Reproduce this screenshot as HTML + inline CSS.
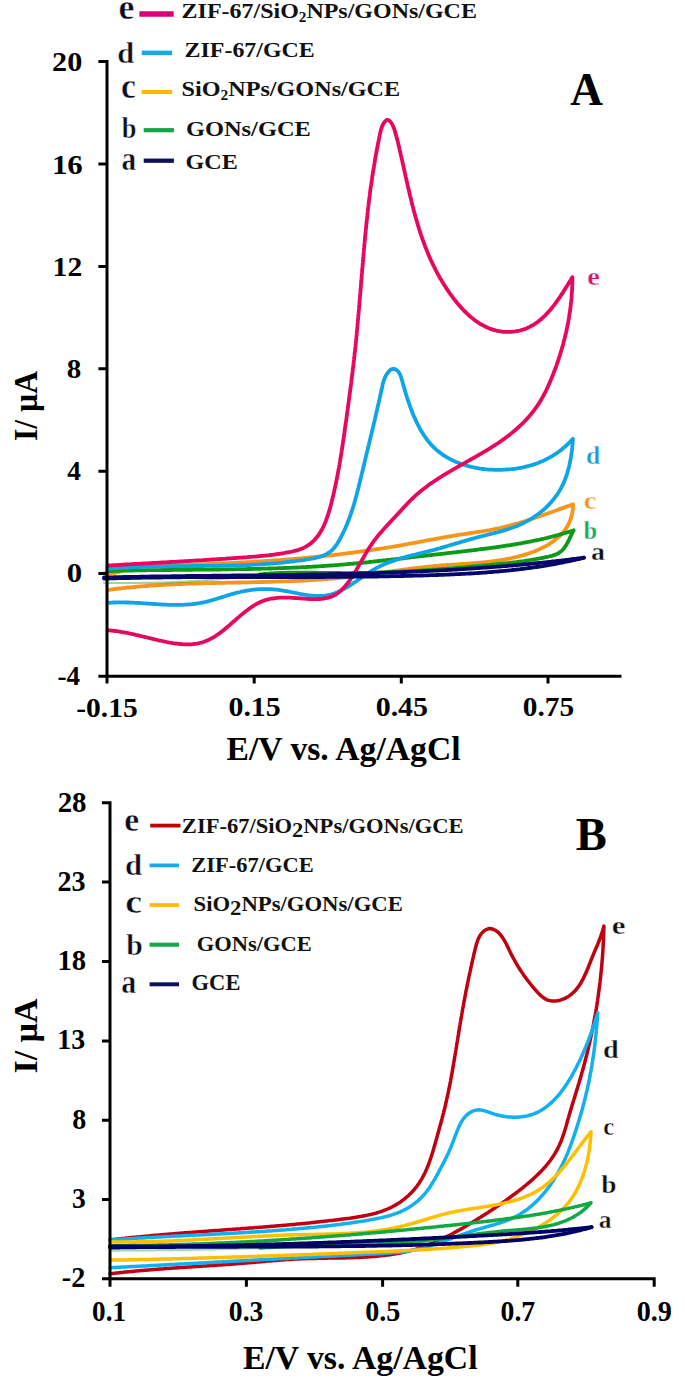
<!DOCTYPE html>
<html><head><meta charset="utf-8">
<style>
html,body{margin:0;padding:0;background:#fff;}
body{width:685px;height:1381px;overflow:hidden;position:relative;}
svg{position:absolute;left:0;top:0;}
text{font-family:"Liberation Serif",serif;font-weight:bold;}
</style></head><body>
<svg width="685" height="1381" viewBox="0 0 685 1381">
<rect width="685" height="1381" fill="#fff"/>
<g fill="none" stroke-linejoin="round" stroke-linecap="round" stroke-width="3.8">
<path d="M104.0,573.3 105.5,573.4 107.0,573.5 108.5,573.5 110.0,573.4 111.5,573.2 113.0,573.0 114.4,572.8 115.9,572.5 117.4,572.1 118.8,571.8 120.3,571.4 121.7,571.1 123.2,570.7 124.6,570.3 126.1,569.9 127.5,569.6 129.0,569.3 130.5,569.0 131.9,568.7 133.4,568.4 134.9,568.1 136.3,567.9 137.8,567.6 139.3,567.4 140.8,567.2 142.3,567.0 143.7,566.8 145.2,566.7 146.7,566.5 148.2,566.4 149.7,566.2 151.2,566.1 152.7,566.0 154.2,565.9 155.7,565.8 157.2,565.7 158.7,565.6 160.2,565.5 161.7,565.5 163.2,565.4 164.7,565.3 166.2,565.3 167.7,565.2 169.2,565.2 170.8,565.1 172.3,565.1 173.8,565.0 175.3,565.0 176.8,565.0 178.3,564.9 179.8,564.9 181.3,564.8 182.8,564.8 184.4,564.8 185.9,564.7 187.4,564.7 188.9,564.6 190.4,564.6 191.9,564.5 193.4,564.5 194.9,564.4 196.4,564.4 198.0,564.3 199.5,564.3 201.0,564.2 202.5,564.2 204.0,564.1 205.5,564.1 207.0,564.0 208.5,564.0 210.0,563.9 211.5,563.9 213.1,563.8 214.6,563.7 216.1,563.7 217.6,563.6 219.1,563.5 220.6,563.5 222.1,563.4 223.6,563.4 225.1,563.3 226.6,563.2 228.1,563.1 229.7,563.1 231.2,563.0 232.7,562.9 234.2,562.9 235.7,562.8 237.2,562.7 238.7,562.6 240.2,562.5 241.7,562.5 243.2,562.4 244.7,562.3 246.2,562.2 247.7,562.1 249.3,562.1 250.8,562.0 252.3,561.9 253.8,561.8 255.3,561.7 256.8,561.6 258.3,561.5 259.8,561.4 261.3,561.3 262.8,561.2 264.3,561.1 265.8,561.0 267.3,560.9 268.8,560.8 270.3,560.7 271.8,560.6 273.3,560.5 274.8,560.4 276.3,560.3 277.9,560.2 279.4,560.1 280.9,559.9 282.4,559.8 283.9,559.7 285.4,559.6 286.9,559.5 288.4,559.4 289.9,559.2 291.4,559.1 292.9,559.0 294.4,558.9 295.9,558.7 297.4,558.6 298.9,558.5 300.4,558.3 301.9,558.2 303.4,558.1 304.9,557.9 306.4,557.8 307.9,557.6 309.4,557.5 310.9,557.4 312.4,557.2 313.9,557.1 315.4,556.9 316.9,556.8 318.4,556.6 319.9,556.4 321.4,556.3 322.9,556.1 324.4,556.0 325.9,555.8 327.4,555.6 328.9,555.5 330.4,555.3 331.9,555.1 333.4,555.0 334.9,554.8 336.4,554.6 337.9,554.5 339.4,554.3 340.9,554.1 342.4,553.9 343.8,553.7 345.3,553.6 346.8,553.4 348.3,553.2 349.8,553.0 351.3,552.8 352.8,552.6 354.3,552.4 355.8,552.2 357.3,552.0 358.8,551.8 360.3,551.6 361.8,551.4 363.3,551.2 364.8,551.0 366.3,550.8 367.7,550.5 369.2,550.3 370.7,550.1 372.2,549.9 373.7,549.7 375.2,549.4 376.7,549.2 378.2,549.0 379.7,548.8 381.2,548.5 382.6,548.3 384.1,548.1 385.6,547.8 387.1,547.6 388.6,547.3 390.1,547.1 391.6,546.8 393.1,546.6 394.6,546.3 396.0,546.1 397.5,545.8 399.0,545.6 400.5,545.3 402.0,545.1 403.5,544.8 405.0,544.5 406.4,544.3 407.9,544.0 409.4,543.7 410.9,543.4 412.4,543.2 413.9,542.9 415.3,542.6 416.8,542.4 418.3,542.1 419.8,541.8 421.3,541.5 422.8,541.3 424.3,541.0 425.7,540.7 427.2,540.4 428.7,540.2 430.2,539.9 431.7,539.6 433.2,539.4 434.6,539.1 436.1,538.8 437.6,538.5 439.1,538.3 440.6,538.0 442.1,537.7 443.6,537.5 445.0,537.2 446.5,537.0 448.0,536.7 449.5,536.4 451.0,536.2 452.5,535.9 454.0,535.7 455.4,535.4 456.9,535.2 458.4,535.0 459.9,534.7 461.4,534.5 462.9,534.2 464.4,534.0 465.9,533.8 467.3,533.6 468.8,533.3 470.3,533.1 471.8,532.9 473.3,532.7 474.8,532.5 476.3,532.2 477.8,532.0 479.3,531.8 480.7,531.6 482.2,531.3 483.7,531.1 485.2,530.9 486.7,530.6 488.2,530.3 489.6,530.1 491.1,529.8 492.6,529.5 494.1,529.2 495.5,528.9 497.0,528.6 498.5,528.3 499.9,528.0 501.4,527.6 502.9,527.3 504.3,526.9 505.8,526.6 507.3,526.2 508.7,525.8 510.2,525.4 511.6,525.0 513.1,524.6 514.5,524.2 516.0,523.8 517.4,523.4 518.9,523.0 520.3,522.5 521.8,522.1 523.2,521.7 524.6,521.2 526.1,520.8 527.5,520.3 529.0,519.8 530.4,519.4 531.8,518.9 533.3,518.4 534.7,518.0 536.1,517.5 537.6,517.0 539.0,516.5 540.4,516.0 541.8,515.5 543.3,515.0 544.7,514.5 546.1,514.0 547.6,513.5 549.0,513.0 550.4,512.5 551.8,512.0 553.2,511.5 554.7,511.0 556.1,510.5 557.5,510.0 558.9,509.4 560.3,508.9 561.8,508.4 563.2,507.9 564.6,507.4 566.0,506.9 567.4,506.4 568.9,505.9 570.3,505.4 571.7,504.9 573.1,504.4 573.1,506.1 573.0,507.8 572.8,509.5 572.6,511.1 572.3,512.7 572.0,514.3 571.6,515.8 571.2,517.3 570.8,518.7 570.2,520.1 569.7,521.5 569.1,522.9 568.4,524.2 567.8,525.5 567.0,526.8 566.3,528.0 565.4,529.2 564.6,530.4 563.7,531.5 562.8,532.6 561.9,533.7 560.9,534.7 559.9,535.8 558.8,536.8 557.8,537.7 556.7,538.7 555.5,539.6 554.4,540.5 553.2,541.4 552.0,542.2 550.8,543.0 549.6,543.8 548.3,544.6 547.0,545.3 545.7,546.1 544.4,546.8 543.1,547.5 541.7,548.1 540.4,548.8 539.0,549.4 537.7,550.0 536.3,550.6 534.9,551.2 533.5,551.7 532.1,552.2 530.7,552.7 529.2,553.2 527.8,553.7 526.4,554.2 525.0,554.6 523.5,555.1 522.1,555.5 520.6,555.9 519.2,556.3 517.7,556.7 516.3,557.0 514.8,557.4 513.4,557.7 511.9,558.0 510.4,558.4 508.9,558.7 507.5,558.9 506.0,559.2 504.5,559.5 503.0,559.8 501.5,560.0 500.0,560.2 498.5,560.5 497.0,560.7 495.5,560.9 494.0,561.1 492.5,561.3 491.0,561.5 489.5,561.6 488.0,561.8 486.5,562.0 485.0,562.1 483.4,562.3 481.9,562.4 480.4,562.6 478.9,562.7 477.4,562.8 475.8,563.0 474.3,563.1 472.8,563.2 471.3,563.3 469.7,563.4 468.2,563.6 466.7,563.7 465.2,563.8 463.6,563.9 462.1,564.0 460.6,564.1 459.1,564.2 457.5,564.3 456.0,564.4 454.5,564.5 452.9,564.6 451.4,564.7 449.9,564.8 448.4,564.9 446.9,565.0 445.3,565.1 443.8,565.3 442.3,565.4 440.8,565.5 439.3,565.6 437.7,565.8 436.2,565.9 434.7,566.0 433.2,566.2 431.7,566.3 430.2,566.5 428.7,566.6 427.2,566.8 425.7,567.0 424.2,567.1 422.7,567.3 421.2,567.5 419.7,567.6 418.2,567.8 416.7,568.0 415.2,568.2 413.7,568.4 412.2,568.5 410.7,568.7 409.2,568.9 407.7,569.1 406.3,569.3 404.8,569.5 403.3,569.7 401.8,569.9 400.3,570.1 398.8,570.3 397.3,570.5 395.8,570.7 394.4,570.9 392.9,571.1 391.4,571.3 389.9,571.5 388.4,571.7 386.9,571.9 385.5,572.1 384.0,572.3 382.5,572.5 381.0,572.7 379.5,572.9 378.1,573.1 376.6,573.3 375.1,573.5 373.6,573.7 372.1,573.9 370.7,574.1 369.2,574.3 367.7,574.5 366.2,574.7 364.7,574.9 363.2,575.1 361.8,575.3 360.3,575.5 358.8,575.7 357.3,575.9 355.8,576.1 354.3,576.2 352.9,576.4 351.4,576.6 349.9,576.8 348.4,576.9 346.9,577.1 345.4,577.3 343.9,577.4 342.4,577.6 341.0,577.7 339.5,577.9 338.0,578.0 336.5,578.2 335.0,578.3 333.5,578.4 332.0,578.6 330.5,578.7 329.0,578.8 327.5,579.0 326.0,579.1 324.5,579.2 323.0,579.3 321.5,579.4 320.0,579.5 318.5,579.6 317.0,579.7 315.5,579.8 314.0,579.9 312.5,580.0 311.0,580.1 309.5,580.2 307.9,580.3 306.4,580.4 304.9,580.5 303.4,580.5 301.9,580.6 300.4,580.7 298.9,580.8 297.4,580.8 295.9,580.9 294.4,581.0 292.8,581.0 291.3,581.1 289.8,581.2 288.3,581.2 286.8,581.3 285.3,581.3 283.8,581.4 282.3,581.4 280.7,581.5 279.2,581.5 277.7,581.6 276.2,581.6 274.7,581.7 273.2,581.7 271.7,581.8 270.1,581.8 268.6,581.8 267.1,581.9 265.6,581.9 264.1,582.0 262.6,582.0 261.1,582.0 259.5,582.1 258.0,582.1 256.5,582.1 255.0,582.2 253.5,582.2 252.0,582.2 250.5,582.3 248.9,582.3 247.4,582.3 245.9,582.3 244.4,582.4 242.9,582.4 241.4,582.4 239.9,582.5 238.4,582.5 236.9,582.5 235.3,582.6 233.8,582.6 232.3,582.6 230.8,582.6 229.3,582.7 227.8,582.7 226.3,582.7 224.8,582.8 223.3,582.8 221.8,582.8 220.3,582.9 218.8,582.9 217.2,582.9 215.7,583.0 214.2,583.0 212.7,583.0 211.2,583.1 209.7,583.1 208.2,583.1 206.7,583.2 205.2,583.2 203.7,583.2 202.2,583.3 200.7,583.3 199.2,583.4 197.7,583.4 196.2,583.5 194.7,583.5 193.2,583.6 191.7,583.6 190.2,583.7 188.7,583.7 187.2,583.8 185.7,583.8 184.2,583.9 182.7,583.9 181.2,584.0 179.7,584.1 178.2,584.1 176.7,584.2 175.1,584.3 173.6,584.3 172.1,584.4 170.6,584.5 169.1,584.6 167.6,584.6 166.1,584.7 164.6,584.8 163.1,584.9 161.6,585.0 160.1,585.1 158.6,585.1 157.1,585.2 155.6,585.3 154.1,585.4 152.6,585.5 151.1,585.6 149.6,585.7 148.1,585.9 146.6,586.0 145.1,586.1 143.6,586.2 142.1,586.3 140.6,586.4 139.1,586.6 137.6,586.7 136.1,586.8 134.6,587.0 133.1,587.1 131.6,587.3 130.1,587.4 128.6,587.5 127.1,587.7 125.6,587.9 124.1,588.0 122.6,588.2 121.1,588.3 119.6,588.5 118.1,588.7 116.6,588.9 115.1,589.0 113.6,589.2 112.1,589.4 110.6,589.6 109.1,589.8 107.6,590.0" stroke="#f7951a"/>
<path d="M107.6,571.1 109.1,571.1 110.6,571.0 112.1,571.0 113.6,570.9 115.1,570.9 116.6,570.8 118.2,570.8 119.7,570.8 121.2,570.7 122.7,570.7 124.2,570.7 125.7,570.6 127.2,570.6 128.7,570.6 130.2,570.5 131.7,570.5 133.2,570.5 134.7,570.4 136.3,570.4 137.8,570.4 139.3,570.4 140.8,570.3 142.3,570.3 143.8,570.3 145.3,570.3 146.8,570.2 148.3,570.2 149.8,570.2 151.3,570.2 152.9,570.2 154.4,570.1 155.9,570.1 157.4,570.1 158.9,570.1 160.4,570.1 161.9,570.0 163.4,570.0 164.9,570.0 166.4,570.0 167.9,570.0 169.5,570.0 171.0,570.0 172.5,569.9 174.0,569.9 175.5,569.9 177.0,569.9 178.5,569.9 180.0,569.9 181.5,569.8 183.0,569.8 184.5,569.8 186.1,569.8 187.6,569.8 189.1,569.8 190.6,569.8 192.1,569.8 193.6,569.7 195.1,569.7 196.6,569.7 198.1,569.7 199.6,569.7 201.2,569.7 202.7,569.7 204.2,569.6 205.7,569.6 207.2,569.6 208.7,569.6 210.2,569.6 211.7,569.6 213.2,569.5 214.7,569.5 216.2,569.5 217.8,569.5 219.3,569.5 220.8,569.5 222.3,569.4 223.8,569.4 225.3,569.4 226.8,569.4 228.3,569.4 229.8,569.3 231.3,569.3 232.8,569.3 234.4,569.3 235.9,569.2 237.4,569.2 238.9,569.2 240.4,569.2 241.9,569.1 243.4,569.1 244.9,569.1 246.4,569.1 247.9,569.0 249.4,569.0 251.0,569.0 252.5,568.9 254.0,568.9 255.5,568.9 257.0,568.8 258.5,568.8 260.0,568.8 261.5,568.7 263.0,568.7 264.5,568.6 266.0,568.6 267.5,568.6 269.0,568.5 270.6,568.5 272.1,568.4 273.6,568.4 275.1,568.3 276.6,568.3 278.1,568.2 279.6,568.2 281.1,568.1 282.6,568.1 284.1,568.0 285.6,568.0 287.1,567.9 288.6,567.8 290.1,567.8 291.7,567.7 293.2,567.7 294.7,567.6 296.2,567.5 297.7,567.5 299.2,567.4 300.7,567.3 302.2,567.2 303.7,567.2 305.2,567.1 306.7,567.0 308.2,566.9 309.7,566.8 311.2,566.8 312.7,566.7 314.2,566.6 315.7,566.5 317.2,566.4 318.8,566.3 320.3,566.2 321.8,566.1 323.3,566.0 324.8,565.9 326.3,565.8 327.8,565.7 329.3,565.6 330.8,565.5 332.3,565.4 333.8,565.3 335.3,565.2 336.8,565.1 338.3,564.9 339.8,564.8 341.3,564.7 342.8,564.6 344.3,564.4 345.8,564.3 347.3,564.2 348.8,564.0 350.3,563.9 351.8,563.8 353.3,563.6 354.8,563.5 356.3,563.4 357.8,563.2 359.3,563.1 360.8,562.9 362.3,562.8 363.8,562.6 365.3,562.5 366.8,562.3 368.3,562.2 369.8,562.0 371.3,561.8 372.8,561.7 374.3,561.5 375.8,561.4 377.3,561.2 378.8,561.0 380.3,560.9 381.8,560.7 383.3,560.5 384.8,560.4 386.3,560.2 387.8,560.0 389.3,559.9 390.8,559.7 392.3,559.5 393.8,559.3 395.3,559.2 396.8,559.0 398.3,558.8 399.8,558.6 401.3,558.5 402.8,558.3 404.3,558.1 405.8,557.9 407.3,557.8 408.8,557.6 410.3,557.4 411.8,557.2 413.3,557.1 414.8,556.9 416.3,556.7 417.8,556.5 419.3,556.4 420.8,556.2 422.3,556.0 423.8,555.8 425.3,555.7 426.8,555.5 428.3,555.3 429.8,555.1 431.3,555.0 432.8,554.8 434.3,554.6 435.8,554.5 437.3,554.3 438.8,554.1 440.3,554.0 441.8,553.8 443.3,553.6 444.8,553.5 446.3,553.3 447.8,553.1 449.3,552.9 450.8,552.8 452.3,552.6 453.8,552.4 455.3,552.3 456.8,552.1 458.3,551.9 459.8,551.8 461.3,551.6 462.8,551.4 464.3,551.2 465.8,551.1 467.3,550.9 468.8,550.7 470.3,550.5 471.8,550.3 473.3,550.2 474.8,550.0 476.3,549.8 477.8,549.6 479.3,549.4 480.8,549.2 482.3,549.0 483.8,548.9 485.3,548.7 486.7,548.5 488.2,548.3 489.7,548.1 491.2,547.9 492.7,547.7 494.2,547.5 495.7,547.3 497.2,547.0 498.7,546.8 500.2,546.6 501.7,546.4 503.2,546.2 504.6,546.0 506.1,545.7 507.6,545.5 509.1,545.3 510.6,545.0 512.1,544.8 513.6,544.5 515.1,544.3 516.5,544.0 518.0,543.8 519.5,543.5 521.0,543.3 522.5,543.0 523.9,542.7 525.4,542.5 526.9,542.2 528.4,541.9 529.9,541.6 531.3,541.3 532.8,541.0 534.3,540.7 535.8,540.4 537.2,540.1 538.7,539.8 540.2,539.5 541.6,539.1 543.1,538.8 544.6,538.5 546.0,538.1 547.5,537.8 549.0,537.4 550.4,537.0 551.9,536.7 553.4,536.3 554.8,535.9 556.3,535.5 557.7,535.1 559.2,534.7 560.7,534.3 562.1,533.9 563.6,533.5 565.0,533.0 566.5,532.6 567.9,532.2 569.4,531.7 570.8,531.2 572.3,530.8 573.7,530.3 573.0,531.4 572.4,532.7 571.8,534.0 571.1,535.3 570.4,536.7 569.8,538.2 569.1,539.6 568.3,541.1 567.6,542.6 566.8,544.0 566.0,545.4 565.1,546.7 564.2,548.0 563.2,549.2 562.2,550.3 561.1,551.3 559.9,552.2 558.7,553.0 557.4,553.7 556.1,554.3 554.7,554.9 553.3,555.3 551.9,555.8 550.4,556.1 549.0,556.5 547.5,556.8 546.0,557.1 544.5,557.4 543.0,557.8 541.6,558.0 540.1,558.3 538.6,558.6 537.1,558.9 535.6,559.2 534.1,559.4 532.6,559.7 531.1,559.9 529.7,560.2 528.2,560.4 526.7,560.6 525.2,560.8 523.7,561.1 522.2,561.3 520.7,561.5 519.2,561.7 517.7,561.9 516.2,562.1 514.7,562.3 513.2,562.4 511.7,562.6 510.2,562.8 508.7,563.0 507.2,563.1 505.7,563.3 504.2,563.5 502.7,563.6 501.2,563.8 499.7,563.9 498.2,564.1 496.7,564.2 495.2,564.4 493.7,564.5 492.2,564.7 490.7,564.8 489.1,565.0 487.6,565.1 486.1,565.3 484.6,565.4 483.1,565.5 481.6,565.7 480.1,565.8 478.6,566.0 477.1,566.1 475.6,566.2 474.1,566.4 472.6,566.5 471.1,566.6 469.6,566.8 468.1,566.9 466.6,567.0 465.1,567.2 463.6,567.3 462.1,567.4 460.6,567.6 459.1,567.7 457.6,567.8 456.1,567.9 454.5,568.1 453.0,568.2 451.5,568.3 450.0,568.4 448.5,568.5 447.0,568.7 445.5,568.8 444.0,568.9 442.5,569.0 441.0,569.1 439.5,569.2 438.0,569.4 436.5,569.5 435.0,569.6 433.5,569.7 432.0,569.8 430.5,569.9 429.0,570.0 427.5,570.1 426.0,570.2 424.5,570.3 423.0,570.4 421.4,570.5 419.9,570.6 418.4,570.7 416.9,570.8 415.4,570.9 413.9,571.0 412.4,571.0 410.9,571.1 409.4,571.2 407.9,571.3 406.4,571.4 404.9,571.5 403.4,571.5 401.9,571.6 400.4,571.7 398.9,571.8 397.4,571.8 395.8,571.9 394.3,572.0 392.8,572.0 391.3,572.1 389.8,572.2 388.3,572.2 386.8,572.3 385.3,572.3 383.8,572.4 382.3,572.4 380.8,572.5 379.3,572.5 377.8,572.6 376.3,572.6 374.7,572.7 373.2,572.7 371.7,572.8 370.2,572.8 368.7,572.8 367.2,572.9 365.7,572.9 364.2,572.9 362.7,572.9 361.2,573.0 359.7,573.0 358.1,573.0 356.6,573.0 355.1,573.0 353.6,573.0 352.1,573.1 350.6,573.1 349.1,573.1 347.6,573.1 346.1,573.1 344.6,573.1 343.0,573.1 341.5,573.1 340.0,573.0 338.5,573.0 337.0,573.0 335.5,573.0 334.0,573.0 332.5,573.0 331.0,572.9 329.4,572.9 327.9,572.9 326.4,572.9 324.9,572.9 323.4,572.8 321.9,572.8 320.4,572.8 318.9,572.8 317.3,572.7 315.8,572.7 314.3,572.7 312.8,572.7 311.3,572.7 309.8,572.6 308.3,572.6 306.8,572.6 305.2,572.6 303.7,572.6 302.2,572.6 300.7,572.6 299.2,572.6 297.7,572.6 296.2,572.6 294.7,572.6 293.2,572.6 291.6,572.7 290.1,572.7 288.6,572.7 287.1,572.7 285.6,572.8 284.1,572.8 282.6,572.9 281.1,572.9 279.6,573.0 278.1,573.1 276.6,573.2 275.0,573.2 273.5,573.3 272.0,573.4 270.5,573.5 269.0,573.6 267.5,573.8 266.0,573.9 264.5,574.0 263.0,574.2 261.5,574.3 260.0,574.5" stroke="#0c9a18"/>
<path d="M260.0,574.5 258.5,574.7 257.0,574.9 255.5,575.1 254.0,575.3 252.5,575.5 251.0,575.7 249.5,575.9 248.0,576.1 246.4,576.3 244.9,576.5 243.4,576.6 241.9,576.8 240.4,577.0 238.9,577.2 237.4,577.3 235.9,577.5 234.4,577.7 232.9,577.8 231.4,578.0 229.8,578.1 228.3,578.3 226.8,578.4 225.3,578.6 223.8,578.7 222.3,578.9 220.8,579.0 219.3,579.1 217.8,579.3 216.2,579.4 214.7,579.5 213.2,579.7 211.7,579.8 210.2,579.9 208.7,580.0 207.2,580.1 205.7,580.3 204.1,580.4 202.6,580.5 201.1,580.6 199.6,580.7 198.1,580.8 196.6,580.9 195.1,581.0 193.5,581.1 192.0,581.2 190.5,581.3 189.0,581.4 187.5,581.4 186.0,581.5 184.4,581.6 182.9,581.7 181.4,581.8 179.9,581.8 178.4,581.9 176.9,582.0 175.3,582.0 173.8,582.1 172.3,582.2 170.8,582.2 169.3,582.3 167.8,582.3 166.2,582.4 164.7,582.4 163.2,582.5 161.7,582.5 160.2,582.6 158.7,582.6 157.1,582.7 155.6,582.7 154.1,582.7 152.6,582.8 151.1,582.8 149.6,582.8 148.0,582.9 146.5,582.9 145.0,582.9 143.5,582.9 142.0,582.9 140.4,583.0 138.9,583.0 137.4,583.0 135.9,583.0 134.4,583.0 132.8,583.0 131.3,583.0 129.8,583.0 128.3,583.0 126.8,583.0 125.3,583.0 123.7,583.0 122.2,583.0 120.7,583.0 119.2,583.0 117.7,583.0 116.1,583.0 114.6,583.0 113.1,582.9 111.6,582.9 110.1,582.9 108.6,582.9 107.0,582.9 105.5,582.8 104.0,582.8" stroke="#0c9a18" stroke-opacity="0.4" stroke-width="2.2"/>
<path d="M107.6,568.8 109.1,568.7 110.6,568.6 112.1,568.4 113.6,568.3 115.1,568.2 116.6,568.1 118.1,568.0 119.6,567.9 121.1,567.8 122.6,567.7 124.1,567.6 125.6,567.5 127.1,567.5 128.6,567.4 130.1,567.3 131.7,567.2 133.2,567.2 134.7,567.1 136.2,567.0 137.7,567.0 139.2,566.9 140.7,566.9 142.2,566.8 143.7,566.8 145.2,566.7 146.7,566.7 148.2,566.6 149.7,566.6 151.2,566.6 152.7,566.5 154.2,566.5 155.7,566.5 157.2,566.4 158.7,566.4 160.2,566.4 161.7,566.3 163.2,566.3 164.7,566.3 166.2,566.3 167.7,566.3 169.2,566.2 170.7,566.2 172.2,566.2 173.7,566.2 175.2,566.2 176.7,566.2 178.2,566.1 179.7,566.1 181.2,566.1 182.7,566.1 184.3,566.1 185.8,566.1 187.3,566.1 188.8,566.1 190.3,566.1 191.8,566.0 193.3,566.0 194.8,566.0 196.3,566.0 197.8,566.0 199.3,566.0 200.8,566.0 202.3,566.0 203.8,566.0 205.3,565.9 206.8,565.9 208.3,565.9 209.8,565.9 211.3,565.9 212.8,565.9 214.3,565.9 215.8,565.8 217.3,565.8 218.8,565.8 220.3,565.8 221.8,565.7 223.3,565.7 224.8,565.7 226.3,565.7 227.8,565.6 229.3,565.6 230.8,565.6 232.3,565.5 233.8,565.5 235.3,565.4 236.8,565.4 238.3,565.3 239.8,565.3 241.3,565.2 242.8,565.2 244.3,565.1 245.8,565.1 247.3,565.0 248.8,565.0 250.3,564.9 251.8,564.8 253.3,564.7 254.8,564.7 256.3,564.6 257.8,564.5 259.4,564.4 260.9,564.3 262.4,564.2 263.9,564.1 265.4,564.0 266.9,563.9 268.4,563.8 269.9,563.7 271.4,563.6 272.9,563.5 274.4,563.3 275.9,563.2 277.4,563.1 278.9,562.9 280.4,562.8 281.9,562.7 283.4,562.5 284.9,562.4 286.4,562.2 287.9,562.0 289.4,561.9 290.9,561.7 292.4,561.5 293.9,561.3 295.4,561.1 296.9,560.9 298.4,560.7 299.9,560.5 301.4,560.3 302.9,560.1 304.4,559.9 305.9,559.6 307.4,559.4 308.9,559.2 310.4,558.9 311.9,558.6 313.4,558.4 314.8,558.1 316.3,557.7 317.7,557.4 319.2,557.0 320.6,556.5 322.0,556.1 323.3,555.6 324.6,555.0 325.9,554.4 327.2,553.7 328.4,552.9 329.6,552.1 330.7,551.3 331.8,550.3 332.9,549.3 333.9,548.2 334.8,547.0 335.8,545.8 336.6,544.6 337.5,543.3 338.3,541.9 339.1,540.6 339.9,539.2 340.6,537.8 341.3,536.4 342.1,535.0 342.7,533.6 343.4,532.2 344.1,530.8 344.7,529.4 345.4,528.0 346.0,526.6 346.6,525.2 347.2,523.8 347.7,522.3 348.3,520.9 348.8,519.5 349.4,518.1 349.9,516.7 350.4,515.2 350.9,513.8 351.4,512.4 351.8,511.0 352.3,509.6 352.8,508.1 353.2,506.7 353.7,505.3 354.1,503.8 354.5,502.4 354.9,501.0 355.3,499.5 355.7,498.1 356.1,496.7 356.5,495.2 356.9,493.8 357.3,492.3 357.6,490.9 358.0,489.4 358.4,488.0 358.7,486.6 359.1,485.1 359.4,483.7 359.8,482.2 360.1,480.8 360.5,479.3 360.8,477.9 361.2,476.4 361.5,475.0 361.9,473.5 362.2,472.1 362.6,470.6 362.9,469.2 363.3,467.7 363.6,466.3 364.0,464.8 364.3,463.3 364.7,461.9 365.0,460.4 365.4,459.0 365.7,457.5 366.1,456.1 366.4,454.6 366.8,453.1 367.1,451.7 367.5,450.2 367.8,448.8 368.2,447.3 368.5,445.8 368.9,444.4 369.2,442.9 369.6,441.4 369.9,440.0 370.3,438.5 370.6,437.1 371.0,435.6 371.4,434.1 371.7,432.7 372.1,431.2 372.4,429.7 372.8,428.2 373.1,426.8 373.5,425.3 373.8,423.8 374.1,422.4 374.5,420.9 374.8,419.4 375.2,417.9 375.5,416.5 375.9,415.0 376.2,413.5 376.6,412.1 376.9,410.6 377.2,409.1 377.6,407.6 377.9,406.1 378.2,404.7 378.6,403.2 378.9,401.7 379.2,400.2 379.6,398.7 379.9,397.3 380.2,395.8 380.6,394.3 380.9,392.8 381.2,391.3 381.5,389.8 381.8,388.4 382.2,386.9 382.5,385.4 382.8,383.9 383.2,382.5 383.7,381.0 384.1,379.6 384.7,378.2 385.3,376.8 386.0,375.4 386.8,374.1 387.7,372.8 388.6,371.6 389.7,370.5 390.9,369.6 392.1,369.1 393.3,368.8 394.6,369.0 395.8,369.6 397.0,370.4 398.1,371.4 398.9,372.5 399.7,373.7 400.3,375.0 400.8,376.3 401.2,377.7 401.7,379.2 402.1,380.6 402.5,382.1 402.9,383.5 403.3,385.0 403.7,386.5 404.2,387.9 404.6,389.4 405.0,390.9 405.5,392.4 405.9,393.8 406.4,395.3 406.8,396.8 407.3,398.3 407.8,399.8 408.3,401.2 408.8,402.7 409.3,404.2 409.8,405.7 410.3,407.1 410.9,408.6 411.4,410.0 412.0,411.5 412.6,412.9 413.1,414.4 413.7,415.8 414.3,417.2 415.0,418.6 415.6,420.0 416.2,421.4 416.9,422.8 417.6,424.1 418.3,425.5 419.0,426.8 419.7,428.2 420.4,429.5 421.2,430.8 421.9,432.1 422.7,433.3 423.5,434.6 424.4,435.8 425.2,437.1 426.1,438.3 426.9,439.4 427.8,440.6 428.7,441.8 429.7,442.9 430.6,444.0 431.6,445.1 432.6,446.1 433.6,447.2 434.7,448.2 435.7,449.2 436.8,450.1 437.9,451.1 439.1,452.0 440.2,452.9 441.4,453.7 442.6,454.6 443.8,455.4 445.0,456.2 446.3,457.0 447.5,457.7 448.8,458.4 450.1,459.1 451.4,459.8 452.8,460.5 454.1,461.1 455.5,461.7 456.9,462.3 458.3,462.8 459.7,463.4 461.1,463.9 462.5,464.4 464.0,464.8 465.4,465.3 466.9,465.7 468.4,466.1 469.8,466.5 471.3,466.9 472.8,467.2 474.3,467.5 475.9,467.8 477.4,468.1 478.9,468.4 480.4,468.6 482.0,468.8 483.5,469.0 485.1,469.2 486.6,469.3 488.2,469.5 489.7,469.6 491.3,469.7 492.8,469.7 494.4,469.8 495.9,469.8 497.5,469.8 499.0,469.8 500.6,469.8 502.1,469.8 503.7,469.7 505.2,469.6 506.7,469.5 508.3,469.4 509.8,469.3 511.3,469.1 512.8,469.0 514.3,468.8 515.8,468.6 517.3,468.3 518.8,468.1 520.3,467.8 521.7,467.6 523.2,467.3 524.7,466.9 526.1,466.6 527.5,466.2 529.0,465.9 530.4,465.5 531.8,465.1 533.2,464.6 534.6,464.2 536.0,463.7 537.4,463.2 538.7,462.7 540.1,462.1 541.4,461.6 542.8,461.0 544.1,460.4 545.4,459.7 546.7,459.1 548.0,458.4 549.3,457.7 550.6,457.0 551.9,456.3 553.1,455.5 554.4,454.7 555.6,453.9 556.9,453.1 558.1,452.2 559.3,451.3 560.5,450.4 561.7,449.5 562.8,448.5 564.0,447.6 565.2,446.5 566.3,445.5 567.4,444.5 568.5,443.4 569.7,442.3 570.7,441.1 571.8,440.0 572.9,438.8 572.8,440.3 572.7,441.7 572.6,443.2 572.5,444.7 572.3,446.2 572.2,447.7 572.0,449.2 571.9,450.7 571.7,452.2 571.5,453.7 571.3,455.2 571.0,456.7 570.8,458.2 570.5,459.7 570.2,461.2 569.9,462.7 569.6,464.2 569.3,465.7 568.9,467.2 568.5,468.7 568.1,470.1 567.7,471.6 567.3,473.1 566.8,474.5 566.4,476.0 565.8,477.4 565.3,478.8 564.8,480.2 564.2,481.6 563.6,483.0 563.0,484.4 562.3,485.7 561.6,487.1 560.9,488.4 560.2,489.7 559.4,491.0 558.6,492.3 557.8,493.5 557.0,494.8 556.1,496.0 555.2,497.2 554.3,498.4 553.4,499.6 552.4,500.7 551.5,501.9 550.4,503.0 549.4,504.1 548.4,505.2 547.3,506.2 546.2,507.3 545.1,508.3 544.0,509.3 542.9,510.3 541.7,511.3 540.5,512.2 539.4,513.2 538.2,514.1 536.9,515.0 535.7,515.9 534.4,516.7 533.2,517.5 531.9,518.4 530.6,519.2 529.3,519.9 528.0,520.7 526.7,521.4 525.3,522.1 524.0,522.8 522.6,523.5 521.3,524.1 519.9,524.7 518.5,525.3 517.1,525.9 515.7,526.5 514.3,527.0 512.9,527.5 511.5,528.0 510.1,528.5 508.6,529.0 507.2,529.5 505.7,529.9 504.3,530.3 502.9,530.8 501.4,531.2 499.9,531.6 498.5,532.0 497.0,532.4 495.6,532.7 494.1,533.1 492.6,533.5 491.2,533.9 489.7,534.2 488.2,534.6 486.8,535.0 485.3,535.3 483.8,535.7 482.4,536.1 480.9,536.4 479.4,536.8 478.0,537.2 476.5,537.6 475.1,538.0 473.6,538.4 472.2,538.8 470.7,539.2 469.3,539.6 467.8,540.0 466.4,540.4 464.9,540.9 463.5,541.3 462.0,541.7 460.6,542.1 459.2,542.6 457.7,543.0 456.3,543.4 454.8,543.8 453.4,544.3 452.0,544.7 450.5,545.1 449.1,545.5 447.6,546.0 446.2,546.4 444.7,546.8 443.3,547.2 441.8,547.6 440.4,548.1 439.0,548.5 437.5,548.9 436.0,549.3 434.6,549.7 433.1,550.1 431.7,550.4 430.2,550.8 428.8,551.2 427.3,551.6 425.8,551.9 424.3,552.3 422.9,552.7 421.4,553.0 419.9,553.4 418.5,553.7 417.0,554.1 415.5,554.5 414.1,554.8 412.6,555.2 411.1,555.6 409.7,555.9 408.2,556.3 406.7,556.7 405.3,557.1 403.8,557.5 402.4,557.9 400.9,558.3 399.5,558.8 398.1,559.2 396.6,559.6 395.2,560.1 393.8,560.6 392.4,561.1 391.0,561.6 389.6,562.1 388.2,562.6 386.8,563.2 385.4,563.8 384.0,564.4 382.7,565.0 381.3,565.6 380.0,566.2 378.7,566.9 377.3,567.6 376.0,568.3 374.7,569.1 373.4,569.8 372.1,570.6 370.9,571.4 369.6,572.2 368.3,573.0 367.1,573.8 365.8,574.7 364.5,575.5 363.3,576.4 362.0,577.2 360.8,578.1 359.5,579.0 358.2,579.8 357.0,580.7 355.7,581.6 354.4,582.4 353.2,583.3 351.9,584.1 350.6,584.9 349.3,585.8 348.0,586.6 346.7,587.4 345.4,588.1 344.1,588.9 342.8,589.6 341.5,590.3 340.1,590.9 338.8,591.6 337.4,592.2 336.1,592.7 334.7,593.3 333.4,593.7 332.0,594.2 330.6,594.6 329.2,594.9 327.8,595.2 326.4,595.5 324.9,595.7 323.5,595.8 322.1,595.9 320.6,596.0 319.2,596.0 317.7,596.0 316.2,596.0 314.7,595.9 313.3,595.8 311.8,595.6 310.3,595.5 308.8,595.3 307.3,595.1 305.8,594.8 304.3,594.6 302.8,594.3 301.2,594.1 299.7,593.8 298.2,593.5 296.7,593.2 295.2,592.9 293.6,592.6 292.1,592.3 290.6,592.0 289.1,591.7 287.5,591.4 286.0,591.1 284.5,590.8 283.0,590.6 281.5,590.3 279.9,590.1 278.4,589.9 276.9,589.7 275.4,589.6 273.9,589.4 272.4,589.3 270.9,589.2 269.4,589.1 268.0,589.1 266.5,589.1 265.0,589.1 263.5,589.1 262.0,589.1 260.5,589.2 259.1,589.2 257.6,589.3 256.1,589.4 254.7,589.6 253.2,589.7 251.7,589.9 250.3,590.1 248.8,590.3 247.4,590.5 245.9,590.8 244.4,591.0 243.0,591.3 241.5,591.6 240.1,592.0 238.6,592.3 237.2,592.6 235.7,593.0 234.3,593.4 232.8,593.8 231.4,594.2 229.9,594.7 228.5,595.1 227.0,595.5 225.6,596.0 224.1,596.5 222.7,596.9 221.2,597.4 219.8,597.8 218.3,598.3 216.8,598.8 215.4,599.2 213.9,599.7 212.5,600.1 211.0,600.5 209.5,600.9 208.1,601.3 206.6,601.7 205.2,602.0 203.7,602.3 202.2,602.6 200.7,602.9 199.3,603.2 197.8,603.4 196.3,603.6 194.8,603.8 193.3,604.0 191.8,604.2 190.4,604.3 188.9,604.4 187.4,604.6 185.9,604.7 184.4,604.7 182.9,604.8 181.4,604.8 179.9,604.9 178.4,604.9 176.9,604.9 175.4,604.9 173.9,604.9 172.4,604.9 170.9,604.8 169.4,604.8 167.9,604.8 166.4,604.7 164.9,604.6 163.4,604.6 161.8,604.5 160.3,604.4 158.8,604.3 157.3,604.2 155.8,604.1 154.3,604.0 152.8,603.9 151.3,603.8 149.8,603.7 148.3,603.6 146.8,603.5 145.3,603.4 143.7,603.3 142.2,603.2 140.7,603.1 139.2,603.0 137.7,602.9 136.2,602.8 134.7,602.8 133.2,602.7 131.7,602.6 130.2,602.6 128.7,602.5 127.1,602.5 125.6,602.4 124.1,602.4 122.6,602.4 121.1,602.4 119.6,602.4 118.1,602.4 116.6,602.4 115.1,602.5 113.6,602.5 112.1,602.6 110.6,602.7 109.1,602.8 107.6,602.9" stroke="#0ea5e6"/>
<path d="M107.6,565.6 109.1,565.5 110.6,565.4 112.0,565.3 113.5,565.2 115.0,565.2 116.5,565.1 118.0,565.0 119.5,564.9 121.0,564.8 122.5,564.7 124.0,564.6 125.5,564.5 127.0,564.5 128.5,564.4 130.0,564.3 131.5,564.2 133.0,564.1 134.5,564.0 136.0,563.9 137.5,563.9 139.0,563.8 140.5,563.7 142.0,563.6 143.5,563.5 145.0,563.4 146.5,563.4 148.0,563.3 149.5,563.2 151.0,563.1 152.5,563.0 154.0,562.9 155.5,562.9 157.1,562.8 158.6,562.7 160.1,562.6 161.6,562.5 163.1,562.4 164.6,562.4 166.1,562.3 167.6,562.2 169.1,562.1 170.7,562.0 172.2,561.9 173.7,561.8 175.2,561.8 176.7,561.7 178.2,561.6 179.7,561.5 181.2,561.4 182.8,561.3 184.3,561.2 185.8,561.2 187.3,561.1 188.8,561.0 190.3,560.9 191.8,560.8 193.3,560.7 194.9,560.6 196.4,560.5 197.9,560.5 199.4,560.4 200.9,560.3 202.4,560.2 203.9,560.1 205.4,560.0 206.9,559.9 208.4,559.8 209.9,559.7 211.4,559.6 212.9,559.5 214.4,559.4 215.9,559.3 217.4,559.2 218.9,559.1 220.4,559.0 221.9,558.9 223.4,558.8 224.9,558.8 226.4,558.6 227.9,558.5 229.4,558.4 230.9,558.3 232.4,558.2 233.9,558.1 235.4,558.0 236.8,557.9 238.3,557.8 239.8,557.7 241.3,557.6 242.8,557.5 244.3,557.4 245.7,557.3 247.2,557.2 248.7,557.0 250.2,556.9 251.6,556.8 253.1,556.7 254.6,556.6 256.0,556.5 257.5,556.3 259.0,556.2 260.5,556.1 261.9,555.9 263.4,555.8 264.9,555.7 266.4,555.5 267.8,555.3 269.3,555.2 270.8,555.0 272.3,554.8 273.8,554.6 275.3,554.4 276.8,554.2 278.3,554.0 279.8,553.8 281.3,553.5 282.9,553.3 284.4,553.0 286.0,552.7 287.5,552.4 289.1,552.1 290.6,551.8 292.2,551.5 293.8,551.1 295.3,550.7 296.9,550.3 298.4,549.9 299.9,549.4 301.3,548.8 302.7,548.3 304.1,547.6 305.4,546.9 306.7,546.2 307.9,545.4 309.1,544.6 310.2,543.8 311.4,542.9 312.4,541.9 313.4,541.0 314.4,540.0 315.4,538.9 316.3,537.8 317.2,536.7 318.1,535.6 318.9,534.4 319.7,533.2 320.5,532.0 321.2,530.7 321.9,529.5 322.6,528.2 323.3,526.8 323.9,525.5 324.5,524.1 325.1,522.8 325.7,521.4 326.2,519.9 326.7,518.5 327.2,517.1 327.7,515.6 328.2,514.1 328.7,512.7 329.1,511.2 329.6,509.7 330.0,508.2 330.4,506.7 330.8,505.2 331.2,503.7 331.6,502.2 331.9,500.7 332.3,499.2 332.7,497.7 333.0,496.2 333.4,494.7 333.7,493.2 334.1,491.7 334.4,490.2 334.7,488.7 335.1,487.2 335.4,485.7 335.7,484.3 336.0,482.8 336.3,481.3 336.6,479.8 336.9,478.3 337.2,476.8 337.5,475.4 337.8,473.9 338.0,472.4 338.3,470.9 338.6,469.5 338.9,468.0 339.1,466.5 339.4,465.0 339.6,463.6 339.9,462.1 340.1,460.6 340.4,459.2 340.6,457.7 340.9,456.2 341.1,454.7 341.3,453.3 341.6,451.8 341.8,450.3 342.0,448.9 342.2,447.4 342.5,445.9 342.7,444.5 342.9,443.0 343.1,441.5 343.3,440.1 343.6,438.6 343.8,437.1 344.0,435.6 344.2,434.2 344.4,432.7 344.6,431.2 344.8,429.8 345.0,428.3 345.2,426.8 345.4,425.3 345.6,423.8 345.9,422.4 346.1,420.9 346.3,419.4 346.5,417.9 346.7,416.5 346.9,415.0 347.1,413.5 347.3,412.0 347.5,410.5 347.7,409.0 347.9,407.5 348.1,406.1 348.3,404.6 348.5,403.1 348.7,401.6 348.9,400.1 349.1,398.6 349.3,397.1 349.5,395.6 349.7,394.1 349.9,392.6 350.1,391.2 350.3,389.7 350.5,388.2 350.7,386.7 350.9,385.2 351.1,383.7 351.3,382.2 351.4,380.7 351.6,379.2 351.8,377.7 352.0,376.2 352.2,374.7 352.4,373.2 352.6,371.7 352.7,370.2 352.9,368.7 353.1,367.2 353.3,365.7 353.5,364.2 353.6,362.7 353.8,361.2 354.0,359.7 354.1,358.2 354.3,356.7 354.5,355.2 354.6,353.7 354.8,352.2 355.0,350.7 355.1,349.2 355.3,347.7 355.5,346.2 355.6,344.7 355.8,343.2 355.9,341.7 356.1,340.2 356.2,338.7 356.4,337.2 356.5,335.7 356.7,334.2 356.8,332.7 356.9,331.2 357.1,329.7 357.2,328.2 357.4,326.7 357.5,325.2 357.6,323.7 357.8,322.2 357.9,320.7 358.0,319.2 358.2,317.7 358.3,316.2 358.4,314.7 358.6,313.2 358.7,311.7 358.8,310.2 359.0,308.7 359.1,307.2 359.2,305.7 359.4,304.2 359.5,302.7 359.6,301.2 359.7,299.7 359.9,298.2 360.0,296.7 360.1,295.2 360.2,293.7 360.4,292.2 360.5,290.7 360.6,289.2 360.7,287.7 360.9,286.2 361.0,284.7 361.1,283.2 361.2,281.7 361.3,280.2 361.5,278.7 361.6,277.2 361.7,275.7 361.8,274.2 362.0,272.7 362.1,271.2 362.2,269.7 362.3,268.2 362.5,266.7 362.6,265.2 362.7,263.7 362.9,262.2 363.0,260.7 363.1,259.2 363.2,257.7 363.4,256.2 363.5,254.7 363.6,253.2 363.8,251.7 363.9,250.2 364.0,248.7 364.2,247.2 364.3,245.7 364.4,244.2 364.6,242.7 364.7,241.3 364.9,239.8 365.0,238.3 365.1,236.8 365.3,235.3 365.4,233.8 365.6,232.3 365.7,230.8 365.9,229.3 366.0,227.8 366.2,226.3 366.3,224.8 366.5,223.3 366.6,221.8 366.8,220.4 367.0,218.9 367.1,217.4 367.3,215.9 367.4,214.4 367.6,212.9 367.8,211.4 367.9,209.9 368.1,208.4 368.3,206.9 368.5,205.4 368.6,204.0 368.8,202.5 369.0,201.0 369.2,199.5 369.4,198.0 369.6,196.5 369.8,195.0 369.9,193.5 370.1,192.1 370.3,190.6 370.5,189.1 370.7,187.6 370.9,186.1 371.2,184.6 371.4,183.1 371.6,181.7 371.8,180.2 372.0,178.7 372.2,177.2 372.5,175.7 372.7,174.2 372.9,172.8 373.1,171.3 373.4,169.8 373.6,168.3 373.9,166.8 374.1,165.3 374.4,163.8 374.6,162.4 374.9,160.9 375.1,159.4 375.4,157.9 375.6,156.4 375.9,154.9 376.2,153.4 376.5,151.9 376.7,150.4 377.0,148.9 377.3,147.4 377.6,145.9 377.9,144.4 378.2,142.9 378.5,141.4 378.8,139.9 379.1,138.4 379.4,136.8 379.7,135.3 380.0,133.8 380.4,132.3 380.7,130.8 381.1,129.3 381.6,127.8 382.1,126.4 382.7,125.0 383.4,123.7 384.2,122.5 385.1,121.4 386.0,120.5 387.0,120.0 387.9,120.0 388.9,120.4 389.9,121.1 390.8,122.2 391.6,123.4 392.4,124.7 393.0,126.0 393.6,127.5 394.2,128.9 394.7,130.4 395.1,131.9 395.6,133.4 396.0,135.0 396.4,136.5 396.8,138.0 397.2,139.5 397.6,141.0 398.0,142.5 398.3,144.0 398.7,145.5 399.0,147.0 399.4,148.5 399.7,149.9 400.1,151.4 400.4,152.9 400.7,154.4 401.1,155.8 401.4,157.3 401.7,158.8 402.1,160.2 402.4,161.7 402.7,163.2 403.0,164.6 403.4,166.1 403.7,167.6 404.0,169.1 404.3,170.5 404.7,172.0 405.0,173.5 405.3,174.9 405.6,176.4 406.0,177.9 406.3,179.3 406.6,180.8 407.0,182.3 407.3,183.7 407.6,185.2 408.0,186.7 408.3,188.1 408.6,189.6 409.0,191.0 409.3,192.5 409.7,194.0 410.0,195.4 410.4,196.9 410.7,198.3 411.1,199.8 411.4,201.2 411.8,202.7 412.1,204.1 412.5,205.6 412.9,207.0 413.3,208.5 413.6,209.9 414.0,211.4 414.4,212.8 414.8,214.3 415.2,215.7 415.6,217.1 416.0,218.6 416.4,220.0 416.8,221.4 417.3,222.9 417.7,224.3 418.1,225.7 418.6,227.2 419.0,228.6 419.5,230.0 419.9,231.4 420.4,232.8 420.8,234.3 421.3,235.7 421.8,237.1 422.3,238.5 422.8,239.9 423.3,241.3 423.8,242.7 424.3,244.1 424.8,245.5 425.4,246.9 425.9,248.3 426.5,249.6 427.0,251.0 427.6,252.4 428.1,253.8 428.7,255.2 429.3,256.5 429.9,257.9 430.5,259.3 431.1,260.6 431.8,262.0 432.4,263.3 433.0,264.7 433.7,266.0 434.4,267.4 435.0,268.7 435.7,270.1 436.4,271.4 437.1,272.7 437.8,274.1 438.6,275.4 439.3,276.7 440.0,278.0 440.8,279.3 441.6,280.6 442.4,282.0 443.2,283.3 444.0,284.6 444.8,285.8 445.6,287.1 446.4,288.4 447.3,289.7 448.2,291.0 449.0,292.2 449.9,293.5 450.8,294.8 451.8,296.0 452.7,297.3 453.6,298.5 454.6,299.8 455.6,301.0 456.5,302.2 457.5,303.4 458.5,304.6 459.6,305.8 460.6,307.0 461.6,308.1 462.7,309.2 463.8,310.4 464.8,311.5 465.9,312.5 467.1,313.6 468.2,314.6 469.3,315.7 470.5,316.7 471.6,317.6 472.8,318.6 474.0,319.5 475.2,320.4 476.4,321.3 477.6,322.1 478.9,323.0 480.1,323.8 481.4,324.5 482.7,325.2 484.0,325.9 485.3,326.6 486.6,327.2 487.9,327.8 489.3,328.4 490.6,328.9 492.0,329.4 493.4,329.8 494.8,330.2 496.2,330.6 497.6,330.9 499.1,331.2 500.5,331.4 502.0,331.6 503.5,331.8 504.9,331.9 506.4,331.9 507.9,331.9 509.4,331.9 510.9,331.8 512.4,331.7 513.9,331.6 515.4,331.4 516.9,331.1 518.3,330.8 519.8,330.5 521.3,330.1 522.7,329.7 524.1,329.2 525.5,328.7 526.9,328.2 528.2,327.6 529.6,326.9 530.9,326.2 532.2,325.5 533.5,324.8 534.7,324.0 535.9,323.1 537.2,322.3 538.4,321.4 539.5,320.4 540.7,319.5 541.8,318.5 543.0,317.5 544.1,316.4 545.2,315.4 546.2,314.3 547.3,313.2 548.3,312.1 549.3,310.9 550.4,309.7 551.4,308.5 552.3,307.3 553.3,306.1 554.3,304.9 555.2,303.7 556.1,302.4 557.0,301.1 557.9,299.9 558.8,298.6 559.7,297.3 560.6,296.0 561.4,294.7 562.3,293.5 563.1,292.2 563.9,290.9 564.7,289.6 565.5,288.3 566.3,287.0 567.1,285.8 567.9,284.5 568.7,283.3 569.4,282.0 570.2,280.8 570.9,279.6 571.7,278.4 572.4,277.2 572.4,278.7 572.4,280.2 572.4,281.7 572.3,283.2 572.3,284.7 572.2,286.2 572.2,287.7 572.1,289.2 572.0,290.7 571.9,292.2 571.8,293.7 571.7,295.2 571.6,296.7 571.5,298.2 571.3,299.7 571.2,301.2 571.0,302.7 570.8,304.2 570.7,305.7 570.5,307.2 570.3,308.7 570.1,310.2 569.9,311.7 569.7,313.2 569.4,314.6 569.2,316.1 569.0,317.6 568.7,319.1 568.4,320.6 568.2,322.1 567.9,323.5 567.6,325.0 567.3,326.5 567.0,328.0 566.7,329.4 566.4,330.9 566.1,332.4 565.7,333.8 565.4,335.3 565.0,336.8 564.7,338.2 564.3,339.7 563.9,341.1 563.5,342.6 563.2,344.0 562.8,345.5 562.4,346.9 561.9,348.4 561.5,349.8 561.1,351.3 560.7,352.7 560.2,354.1 559.8,355.6 559.3,357.0 558.8,358.4 558.4,359.9 557.9,361.3 557.4,362.7 556.9,364.1 556.4,365.6 555.9,367.0 555.4,368.4 554.9,369.8 554.3,371.2 553.8,372.6 553.2,374.0 552.7,375.4 552.1,376.8 551.6,378.2 551.0,379.6 550.4,381.0 549.8,382.4 549.2,383.7 548.6,385.1 548.0,386.5 547.4,387.8 546.7,389.2 546.1,390.5 545.4,391.9 544.7,393.2 544.1,394.5 543.3,395.8 542.6,397.2 541.9,398.5 541.1,399.7 540.4,401.0 539.6,402.3 538.8,403.6 538.0,404.8 537.1,406.1 536.3,407.3 535.4,408.5 534.5,409.7 533.6,410.9 532.7,412.1 531.8,413.3 530.8,414.4 529.8,415.6 528.8,416.7 527.8,417.9 526.8,419.0 525.8,420.1 524.7,421.2 523.7,422.3 522.6,423.3 521.5,424.4 520.4,425.4 519.3,426.5 518.2,427.5 517.1,428.5 515.9,429.5 514.8,430.5 513.6,431.5 512.5,432.4 511.3,433.4 510.1,434.3 508.9,435.3 507.7,436.2 506.5,437.1 505.3,438.0 504.1,438.9 502.9,439.7 501.7,440.6 500.4,441.5 499.2,442.3 497.9,443.2 496.7,444.0 495.4,444.8 494.2,445.6 492.9,446.4 491.7,447.2 490.4,448.0 489.1,448.8 487.8,449.6 486.5,450.4 485.2,451.2 484.0,451.9 482.7,452.7 481.4,453.5 480.1,454.2 478.8,455.0 477.5,455.7 476.2,456.5 474.9,457.2 473.5,458.0 472.2,458.7 470.9,459.4 469.6,460.2 468.3,460.9 467.0,461.6 465.7,462.4 464.4,463.1 463.1,463.8 461.8,464.6 460.4,465.3 459.1,466.1 457.8,466.8 456.5,467.5 455.2,468.3 453.9,469.0 452.6,469.8 451.3,470.6 450.0,471.3 448.7,472.1 447.4,472.8 446.2,473.6 444.9,474.4 443.6,475.2 442.3,476.0 441.0,476.8 439.8,477.6 438.5,478.4 437.3,479.2 436.0,480.0 434.8,480.8 433.5,481.7 432.3,482.5 431.0,483.4 429.8,484.2 428.6,485.1 427.4,486.0 426.2,486.9 425.0,487.8 423.8,488.7 422.6,489.6 421.5,490.6 420.3,491.5 419.2,492.5 418.0,493.4 416.9,494.4 415.8,495.4 414.7,496.4 413.6,497.5 412.5,498.5 411.4,499.5 410.3,500.6 409.3,501.7 408.2,502.7 407.2,503.8 406.1,504.9 405.1,506.0 404.1,507.1 403.0,508.2 402.0,509.4 401.0,510.5 400.0,511.6 399.0,512.7 397.9,513.8 396.9,514.9 395.9,516.0 394.8,517.1 393.8,518.2 392.8,519.3 391.8,520.4 390.7,521.5 389.7,522.6 388.7,523.7 387.7,524.8 386.7,525.9 385.7,527.0 384.6,528.1 383.7,529.2 382.7,530.3 381.7,531.5 380.7,532.6 379.7,533.7 378.8,534.9 377.8,536.0 376.9,537.2 376.0,538.4 375.1,539.5 374.2,540.7 373.3,541.9 372.4,543.1 371.6,544.4 370.7,545.6 369.9,546.8 369.1,548.1 368.3,549.4 367.5,550.6 366.7,551.9 365.9,553.2 365.2,554.5 364.4,555.8 363.7,557.1 362.9,558.5 362.2,559.8 361.4,561.1 360.6,562.4 359.9,563.8 359.1,565.1 358.4,566.4 357.6,567.7 356.8,569.1 356.1,570.4 355.3,571.7 354.5,573.0 353.7,574.3 352.8,575.6 352.0,576.9 351.1,578.2 350.3,579.5 349.4,580.8 348.5,582.0 347.6,583.2 346.6,584.4 345.7,585.6 344.7,586.7 343.7,587.8 342.7,588.9 341.6,589.9 340.5,590.9 339.5,591.8 338.3,592.7 337.2,593.5 336.0,594.3 334.8,595.0 333.6,595.6 332.3,596.2 331.0,596.7 329.7,597.2 328.4,597.6 327.0,597.9 325.6,598.2 324.2,598.5 322.8,598.7 321.4,598.9 319.9,599.0 318.4,599.1 316.9,599.1 315.4,599.1 313.9,599.1 312.4,599.1 310.8,599.1 309.3,599.0 307.7,598.9 306.2,598.8 304.6,598.7 303.0,598.6 301.4,598.4 299.9,598.3 298.3,598.2 296.7,598.1 295.2,598.0 293.6,597.9 292.0,597.8 290.5,597.7 288.9,597.7 287.4,597.6 285.9,597.6 284.3,597.6 282.8,597.6 281.3,597.6 279.8,597.7 278.3,597.8 276.9,597.9 275.4,598.1 273.9,598.3 272.5,598.5 271.1,598.7 269.6,599.0 268.2,599.4 266.8,599.7 265.5,600.1 264.1,600.6 262.8,601.1 261.4,601.6 260.1,602.2 258.8,602.8 257.5,603.5 256.2,604.2 255.0,604.9 253.7,605.6 252.5,606.4 251.2,607.3 250.0,608.1 248.8,609.0 247.6,609.9 246.4,610.8 245.2,611.7 244.0,612.7 242.8,613.6 241.6,614.6 240.4,615.6 239.3,616.6 238.1,617.6 236.9,618.6 235.8,619.7 234.6,620.7 233.4,621.7 232.3,622.7 231.1,623.8 229.9,624.8 228.8,625.8 227.6,626.8 226.4,627.8 225.2,628.8 224.1,629.7 222.9,630.7 221.7,631.6 220.5,632.5 219.3,633.4 218.0,634.3 216.8,635.1 215.6,636.0 214.3,636.8 213.1,637.5 211.8,638.2 210.5,638.9 209.2,639.6 207.9,640.2 206.6,640.8 205.2,641.3 203.9,641.8 202.5,642.3 201.1,642.7 199.7,643.0 198.3,643.3 196.9,643.6 195.5,643.8 194.0,644.0 192.5,644.2 191.0,644.3 189.6,644.3 188.1,644.4 186.5,644.4 185.0,644.3 183.5,644.3 182.0,644.2 180.4,644.0 178.9,643.9 177.4,643.7 175.8,643.5 174.3,643.3 172.7,643.1 171.2,642.8 169.6,642.6 168.1,642.3 166.5,642.0 165.0,641.7 163.5,641.3 162.0,641.0 160.4,640.7 158.9,640.3 157.4,640.0 155.9,639.6 154.4,639.3 152.9,638.9 151.5,638.6 150.0,638.2 148.5,637.9 147.1,637.5 145.6,637.2 144.2,636.8 142.8,636.5 141.3,636.1 139.9,635.8 138.5,635.4 137.0,635.1 135.6,634.8 134.2,634.4 132.7,634.1 131.3,633.8 129.9,633.5 128.4,633.2 127.0,632.9 125.5,632.7 124.1,632.4 122.6,632.1 121.2,631.9 119.7,631.6 118.2,631.4 116.7,631.2 115.2,631.0 113.7,630.8 112.2,630.6 110.7,630.5 109.1,630.3 107.6,630.2" stroke="#e8075f"/>
<path d="M104.0,577.5 105.5,577.5 107.0,577.4 108.5,577.4 110.0,577.4 111.5,577.3 113.0,577.3 114.5,577.2 116.0,577.2 117.5,577.2 119.0,577.1 120.6,577.1 122.1,577.1 123.6,577.0 125.1,577.0 126.6,577.0 128.1,577.0 129.6,576.9 131.1,576.9 132.6,576.9 134.1,576.8 135.6,576.8 137.1,576.8 138.6,576.8 140.1,576.7 141.6,576.7 143.1,576.7 144.6,576.6 146.1,576.6 147.7,576.6 149.2,576.6 150.7,576.5 152.2,576.5 153.7,576.5 155.2,576.5 156.7,576.4 158.2,576.4 159.7,576.4 161.2,576.4 162.7,576.4 164.2,576.3 165.7,576.3 167.2,576.3 168.7,576.3 170.2,576.3 171.8,576.2 173.3,576.2 174.8,576.2 176.3,576.2 177.8,576.2 179.3,576.1 180.8,576.1 182.3,576.1 183.8,576.1 185.3,576.1 186.8,576.0 188.3,576.0 189.8,576.0 191.3,576.0 192.9,576.0 194.4,575.9 195.9,575.9 197.4,575.9 198.9,575.9 200.4,575.9 201.9,575.9 203.4,575.8 204.9,575.8 206.4,575.8 207.9,575.8 209.4,575.8 210.9,575.8 212.4,575.7 214.0,575.7 215.5,575.7 217.0,575.7 218.5,575.7 220.0,575.7 221.5,575.7 223.0,575.6 224.5,575.6 226.0,575.6 227.5,575.6 229.0,575.6 230.5,575.6 232.0,575.5 233.6,575.5 235.1,575.5 236.6,575.5 238.1,575.5 239.6,575.5 241.1,575.4 242.6,575.4 244.1,575.4 245.6,575.4 247.1,575.4 248.6,575.4 250.1,575.3 251.7,575.3 253.2,575.3 254.7,575.3 256.2,575.3 257.7,575.3 259.2,575.2 260.7,575.2 262.2,575.2 263.7,575.2 265.2,575.2 266.7,575.2 268.2,575.1 269.7,575.1 271.3,575.1 272.8,575.1 274.3,575.1 275.8,575.1 277.3,575.0 278.8,575.0 280.3,575.0 281.8,575.0 283.3,575.0 284.8,574.9 286.3,574.9 287.8,574.9 289.4,574.9 290.9,574.9 292.4,574.8 293.9,574.8 295.4,574.8 296.9,574.8 298.4,574.7 299.9,574.7 301.4,574.7 302.9,574.7 304.4,574.7 305.9,574.6 307.4,574.6 309.0,574.6 310.5,574.6 312.0,574.5 313.5,574.5 315.0,574.5 316.5,574.4 318.0,574.4 319.5,574.4 321.0,574.4 322.5,574.3 324.0,574.3 325.5,574.3 327.0,574.3 328.6,574.2 330.1,574.2 331.6,574.2 333.1,574.1 334.6,574.1 336.1,574.1 337.6,574.0 339.1,574.0 340.6,574.0 342.1,573.9 343.6,573.9 345.1,573.9 346.6,573.8 348.2,573.8 349.7,573.8 351.2,573.7 352.7,573.7 354.2,573.7 355.7,573.6 357.2,573.6 358.7,573.5 360.2,573.5 361.7,573.5 363.2,573.4 364.7,573.4 366.2,573.3 367.7,573.3 369.2,573.2 370.8,573.2 372.3,573.2 373.8,573.1 375.3,573.1 376.8,573.0 378.3,573.0 379.8,572.9 381.3,572.9 382.8,572.8 384.3,572.8 385.8,572.7 387.3,572.7 388.8,572.6 390.3,572.6 391.8,572.5 393.4,572.5 394.9,572.4 396.4,572.4 397.9,572.3 399.4,572.2 400.9,572.2 402.4,572.1 403.9,572.1 405.4,572.0 406.9,571.9 408.4,571.9 409.9,571.8 411.4,571.8 412.9,571.7 414.4,571.6 415.9,571.6 417.4,571.5 418.9,571.4 420.5,571.4 422.0,571.3 423.5,571.2 425.0,571.2 426.5,571.1 428.0,571.0 429.5,570.9 431.0,570.9 432.5,570.8 434.0,570.7 435.5,570.7 437.0,570.6 438.5,570.5 440.0,570.4 441.5,570.3 443.0,570.3 444.5,570.2 446.0,570.1 447.5,570.0 449.0,569.9 450.5,569.8 452.0,569.8 453.5,569.7 455.0,569.6 456.6,569.5 458.1,569.4 459.6,569.3 461.1,569.2 462.6,569.1 464.1,569.0 465.6,568.9 467.1,568.8 468.6,568.7 470.1,568.6 471.6,568.5 473.1,568.4 474.6,568.3 476.1,568.2 477.6,568.1 479.1,568.0 480.6,567.9 482.1,567.8 483.6,567.7 485.1,567.6 486.6,567.5 488.1,567.4 489.6,567.3 491.1,567.2 492.6,567.0 494.1,566.9 495.6,566.8 497.1,566.7 498.6,566.6 500.1,566.5 501.6,566.3 503.1,566.2 504.6,566.1 506.1,566.0 507.6,565.8 509.1,565.7 510.6,565.6 512.1,565.5 513.6,565.3 515.1,565.2 516.6,565.1 518.1,564.9 519.6,564.8 521.1,564.7 522.6,564.5 524.1,564.4 525.6,564.2 527.1,564.1 528.6,564.0 530.1,563.8 531.6,563.7 533.1,563.5 534.6,563.4 536.1,563.2 537.6,563.1 539.1,562.9 540.6,562.8 542.1,562.6 543.6,562.5 545.1,562.3 546.6,562.1 548.1,562.0 549.6,561.8 551.1,561.7 552.6,561.5 554.1,561.3 555.6,561.2 557.1,561.0 558.6,560.8 560.1,560.6 561.6,560.5 563.1,560.3 564.6,560.1 566.1,559.9 567.6,559.8 569.0,559.6 570.5,559.4 572.0,559.2 573.5,559.0 575.0,558.8 576.5,558.7 578.0,558.5 579.5,558.3 581.0,558.1 582.5,557.9 584.0,557.7" stroke="#07076a" stroke-width="3.8"/>
<path d="M104.0,578.6 105.5,578.6 107.0,578.5 108.5,578.5 110.0,578.4 111.5,578.4 113.0,578.3 114.5,578.3 116.0,578.3 117.6,578.2 119.1,578.2 120.6,578.2 122.1,578.1 123.6,578.1 125.1,578.1 126.6,578.0 128.1,578.0 129.6,578.0 131.1,577.9 132.6,577.9 134.1,577.9 135.6,577.8 137.1,577.8 138.7,577.8 140.2,577.8 141.7,577.7 143.2,577.7 144.7,577.7 146.2,577.7 147.7,577.6 149.2,577.6 150.7,577.6 152.2,577.6 153.7,577.5 155.2,577.5 156.7,577.5 158.3,577.5 159.8,577.5 161.3,577.5 162.8,577.4 164.3,577.4 165.8,577.4 167.3,577.4 168.8,577.4 170.3,577.4 171.8,577.3 173.3,577.3 174.8,577.3 176.4,577.3 177.9,577.3 179.4,577.3 180.9,577.3 182.4,577.2 183.9,577.2 185.4,577.2 186.9,577.2 188.4,577.2 189.9,577.2 191.4,577.2 192.9,577.2 194.5,577.2 196.0,577.2 197.5,577.2 199.0,577.1 200.5,577.1 202.0,577.1 203.5,577.1 205.0,577.1 206.5,577.1 208.0,577.1 209.6,577.1 211.1,577.1 212.6,577.1 214.1,577.1 215.6,577.1 217.1,577.1 218.6,577.1 220.1,577.1 221.6,577.1 223.1,577.1 224.7,577.1 226.2,577.1 227.7,577.1 229.2,577.1 230.7,577.1 232.2,577.1 233.7,577.1 235.2,577.1 236.7,577.1 238.2,577.1 239.8,577.0 241.3,577.0 242.8,577.0 244.3,577.0 245.8,577.0 247.3,577.0 248.8,577.0 250.3,577.0 251.8,577.0 253.3,577.0 254.9,577.0 256.4,577.0 257.9,577.0 259.4,577.0 260.9,577.0 262.4,577.0 263.9,577.0 265.4,577.0 266.9,577.0 268.4,577.0 270.0,577.0 271.5,577.0 273.0,577.0 274.5,577.0 276.0,577.0 277.5,577.0 279.0,577.0 280.5,577.0 282.0,577.0 283.6,577.0 285.1,577.0 286.6,577.0 288.1,577.0 289.6,577.0 291.1,577.0 292.6,577.0 294.1,577.0 295.6,577.0 297.2,577.0 298.7,577.0 300.2,577.0 301.7,577.0 303.2,577.0 304.7,577.0 306.2,577.0 307.7,577.0 309.2,577.0 310.7,577.0 312.3,577.0 313.8,577.0 315.3,577.0 316.8,577.0 318.3,577.0 319.8,577.0 321.3,577.0 322.8,577.0 324.3,577.0 325.9,576.9 327.4,576.9 328.9,576.9 330.4,576.9 331.9,576.9 333.4,576.9 334.9,576.9 336.4,576.9 337.9,576.9 339.4,576.9 341.0,576.9 342.5,576.9 344.0,576.8 345.5,576.8 347.0,576.8 348.5,576.8 350.0,576.8 351.5,576.8 353.0,576.8 354.6,576.7 356.1,576.7 357.6,576.7 359.1,576.7 360.6,576.7 362.1,576.7 363.6,576.6 365.1,576.6 366.6,576.6 368.1,576.6 369.7,576.6 371.2,576.6 372.7,576.5 374.2,576.5 375.7,576.5 377.2,576.5 378.7,576.4 380.2,576.4 381.7,576.4 383.2,576.4 384.8,576.3 386.3,576.3 387.8,576.3 389.3,576.3 390.8,576.2 392.3,576.2 393.8,576.2 395.3,576.1 396.8,576.1 398.3,576.1 399.9,576.1 401.4,576.0 402.9,576.0 404.4,575.9 405.9,575.9 407.4,575.9 408.9,575.8 410.4,575.8 411.9,575.8 413.4,575.7 414.9,575.7 416.5,575.6 418.0,575.6 419.5,575.6 421.0,575.5 422.5,575.5 424.0,575.4 425.5,575.4 427.0,575.3 428.5,575.3 430.0,575.2 431.5,575.2 433.1,575.1 434.6,575.1 436.1,575.0 437.6,575.0 439.1,574.9 440.6,574.9 442.1,574.8 443.6,574.8 445.1,574.7 446.6,574.6 448.1,574.6 449.6,574.5 451.2,574.4 452.7,574.4 454.2,574.3 455.7,574.2 457.2,574.2 458.7,574.1 460.2,574.0 461.7,573.9 463.2,573.9 464.7,573.8 466.2,573.7 467.7,573.6 469.2,573.5 470.7,573.5 472.2,573.4 473.7,573.3 475.2,573.2 476.8,573.1 478.3,573.0 479.8,572.9 481.3,572.8 482.8,572.7 484.3,572.6 485.8,572.5 487.3,572.3 488.8,572.2 490.3,572.1 491.8,572.0 493.3,571.9 494.8,571.7 496.3,571.6 497.8,571.5 499.3,571.4 500.8,571.2 502.3,571.1 503.8,570.9 505.3,570.8 506.8,570.6 508.3,570.5 509.8,570.3 511.3,570.2 512.8,570.0 514.3,569.9 515.8,569.7 517.3,569.5 518.7,569.3 520.2,569.2 521.7,569.0 523.2,568.8 524.7,568.6 526.2,568.4 527.7,568.2 529.2,568.0 530.7,567.8 532.2,567.6 533.7,567.4 535.2,567.2 536.7,567.0 538.1,566.8 539.6,566.5 541.1,566.3 542.6,566.1 544.1,565.8 545.6,565.6 547.1,565.3 548.5,565.1 550.0,564.8 551.5,564.6 553.0,564.3 554.5,564.0 556.0,563.8 557.4,563.5 558.9,563.2 560.4,562.9 561.9,562.6 563.4,562.3 564.8,562.0 566.3,561.7 567.8,561.4 569.3,561.1 570.7,560.8 572.2,560.5 573.7,560.1 575.2,559.8 576.6,559.5 578.1,559.1 579.6,558.8 581.1,558.4 582.5,558.1 584.0,557.7" stroke="#07076a" stroke-width="3.8"/>
</g>
<g stroke="#000" stroke-width="3" fill="none">
<path d="M98.4,61.6 H107 V683.4"/>
<path d="M98.4,164 H107 M98.4,266.4 H107 M98.4,368.8 H107 M98.4,471.2 H107 M98.4,573.6 H107"/>
<path d="M98.4,676.2 H621.5"/>
<path d="M254.2,676 V683.4 M401.3,676 V683.4 M548,676 V683.4"/>
</g>
<g>
<path d="M139.4,14 H173.7" stroke="#d8007a" stroke-width="5.4"/>
<path d="M141.7,52.9 H172.1" stroke="#18aae8" stroke-width="4.6"/>
<path d="M141.7,92 H172.1" stroke="#ffb800" stroke-width="4.2"/>
<path d="M143.7,130.2 H173.9" stroke="#14a444" stroke-width="4.2"/>
<path d="M143.7,160.7 H173.9" stroke="#10105e" stroke-width="4.3"/>
</g>
<g fill="none" stroke-linejoin="round" stroke-linecap="round" stroke-width="3.5">
<path d="M110.0,1240.0 111.5,1239.8 113.0,1239.6 114.5,1239.5 116.0,1239.3 117.5,1239.1 119.0,1238.9 120.5,1238.8 122.0,1238.6 123.5,1238.4 125.0,1238.3 126.5,1238.1 128.0,1238.0 129.5,1237.8 131.0,1237.6 132.5,1237.5 134.0,1237.3 135.5,1237.2 137.0,1237.0 138.5,1236.9 140.0,1236.7 141.5,1236.6 143.0,1236.4 144.5,1236.3 146.0,1236.2 147.5,1236.0 149.0,1235.9 150.5,1235.7 152.0,1235.6 153.5,1235.5 155.0,1235.3 156.5,1235.2 158.0,1235.1 159.5,1234.9 161.0,1234.8 162.5,1234.7 164.0,1234.5 165.5,1234.4 167.0,1234.3 168.4,1234.2 169.9,1234.0 171.4,1233.9 172.9,1233.8 174.4,1233.7 175.9,1233.5 177.4,1233.4 178.9,1233.3 180.4,1233.2 181.9,1233.1 183.4,1233.0 184.9,1232.8 186.4,1232.7 187.9,1232.6 189.4,1232.5 190.9,1232.4 192.4,1232.3 193.9,1232.2 195.4,1232.0 196.9,1231.9 198.4,1231.8 199.9,1231.7 201.4,1231.6 202.9,1231.5 204.4,1231.4 205.9,1231.3 207.4,1231.2 208.8,1231.0 210.3,1230.9 211.8,1230.8 213.3,1230.7 214.8,1230.6 216.3,1230.5 217.8,1230.4 219.3,1230.3 220.8,1230.2 222.3,1230.1 223.8,1230.0 225.3,1229.8 226.8,1229.7 228.3,1229.6 229.8,1229.5 231.3,1229.4 232.8,1229.3 234.3,1229.2 235.8,1229.1 237.3,1229.0 238.8,1228.9 240.3,1228.8 241.8,1228.6 243.3,1228.5 244.8,1228.4 246.3,1228.3 247.8,1228.2 249.3,1228.1 250.7,1228.0 252.2,1227.9 253.7,1227.7 255.2,1227.6 256.7,1227.5 258.2,1227.4 259.7,1227.3 261.2,1227.2 262.7,1227.1 264.2,1226.9 265.7,1226.8 267.2,1226.7 268.7,1226.6 270.2,1226.5 271.7,1226.3 273.2,1226.2 274.7,1226.1 276.2,1226.0 277.7,1225.8 279.2,1225.7 280.7,1225.6 282.2,1225.4 283.7,1225.3 285.2,1225.2 286.7,1225.1 288.2,1224.9 289.7,1224.8 291.2,1224.7 292.7,1224.5 294.2,1224.4 295.7,1224.2 297.2,1224.1 298.7,1224.0 300.2,1223.8 301.7,1223.7 303.2,1223.5 304.7,1223.4 306.2,1223.2 307.7,1223.1 309.2,1222.9 310.7,1222.8 312.2,1222.6 313.7,1222.5 315.2,1222.3 316.7,1222.1 318.2,1222.0 319.7,1221.8 321.2,1221.6 322.7,1221.5 324.2,1221.3 325.7,1221.1 327.2,1221.0 328.7,1220.8 330.2,1220.6 331.8,1220.4 333.3,1220.3 334.8,1220.1 336.3,1219.9 337.8,1219.7 339.3,1219.5 340.8,1219.3 342.3,1219.1 343.8,1219.0 345.3,1218.8 346.8,1218.6 348.3,1218.4 349.8,1218.2 351.3,1217.9 352.8,1217.7 354.3,1217.5 355.8,1217.3 357.3,1217.0 358.8,1216.8 360.3,1216.6 361.8,1216.3 363.3,1216.0 364.8,1215.7 366.2,1215.4 367.7,1215.1 369.2,1214.8 370.6,1214.5 372.1,1214.1 373.5,1213.7 375.0,1213.4 376.4,1213.0 377.8,1212.5 379.2,1212.1 380.7,1211.6 382.1,1211.2 383.4,1210.7 384.8,1210.1 386.2,1209.6 387.6,1209.0 388.9,1208.4 390.3,1207.8 391.6,1207.2 392.9,1206.5 394.2,1205.8 395.5,1205.1 396.8,1204.3 398.1,1203.5 399.3,1202.7 400.6,1201.9 401.8,1201.0 403.0,1200.1 404.2,1199.2 405.4,1198.2 406.5,1197.2 407.7,1196.2 408.8,1195.2 409.9,1194.1 411.0,1193.1 412.0,1192.0 413.1,1190.8 414.1,1189.7 415.0,1188.5 416.0,1187.4 416.9,1186.2 417.8,1184.9 418.7,1183.7 419.5,1182.5 420.3,1181.2 421.1,1179.9 421.9,1178.6 422.6,1177.3 423.3,1176.0 424.0,1174.7 424.7,1173.3 425.3,1172.0 425.9,1170.6 426.6,1169.2 427.1,1167.9 427.7,1166.5 428.3,1165.1 428.8,1163.7 429.3,1162.2 429.8,1160.8 430.3,1159.4 430.8,1158.0 431.3,1156.5 431.7,1155.1 432.2,1153.6 432.6,1152.2 433.1,1150.7 433.5,1149.3 433.9,1147.8 434.3,1146.4 434.8,1144.9 435.2,1143.5 435.6,1142.0 436.0,1140.6 436.4,1139.1 436.8,1137.7 437.2,1136.2 437.6,1134.8 438.0,1133.3 438.4,1131.9 438.8,1130.4 439.2,1129.0 439.6,1127.6 440.0,1126.1 440.4,1124.7 440.8,1123.2 441.2,1121.8 441.6,1120.3 442.0,1118.9 442.3,1117.5 442.7,1116.0 443.1,1114.6 443.5,1113.1 443.8,1111.7 444.2,1110.2 444.6,1108.8 444.9,1107.3 445.3,1105.9 445.6,1104.4 445.9,1102.9 446.3,1101.5 446.6,1100.0 446.9,1098.5 447.3,1097.1 447.6,1095.6 447.9,1094.1 448.2,1092.7 448.5,1091.2 448.8,1089.7 449.1,1088.2 449.4,1086.8 449.7,1085.3 450.0,1083.8 450.3,1082.3 450.6,1080.8 450.8,1079.3 451.1,1077.8 451.4,1076.4 451.7,1074.9 451.9,1073.4 452.2,1071.9 452.5,1070.4 452.7,1068.9 453.0,1067.4 453.2,1065.9 453.5,1064.4 453.7,1062.9 454.0,1061.4 454.3,1059.9 454.5,1058.5 454.7,1057.0 455.0,1055.5 455.2,1054.0 455.5,1052.5 455.7,1051.0 456.0,1049.5 456.2,1048.0 456.5,1046.5 456.7,1045.0 456.9,1043.5 457.2,1042.0 457.4,1040.6 457.7,1039.1 457.9,1037.6 458.1,1036.1 458.4,1034.6 458.6,1033.1 458.9,1031.7 459.1,1030.2 459.3,1028.7 459.6,1027.2 459.8,1025.8 460.1,1024.3 460.3,1022.8 460.6,1021.3 460.8,1019.9 461.1,1018.4 461.3,1017.0 461.6,1015.5 461.8,1014.0 462.1,1012.6 462.3,1011.1 462.6,1009.7 462.8,1008.2 463.1,1006.8 463.4,1005.3 463.6,1003.8 463.9,1002.4 464.2,1000.9 464.4,999.5 464.7,998.0 465.0,996.6 465.3,995.1 465.6,993.7 465.8,992.2 466.1,990.7 466.4,989.3 466.7,987.8 467.0,986.4 467.3,984.9 467.6,983.4 467.9,982.0 468.2,980.5 468.5,979.0 468.8,977.5 469.1,976.0 469.4,974.6 469.7,973.1 470.1,971.6 470.4,970.1 470.7,968.6 471.0,967.1 471.4,965.6 471.7,964.0 472.1,962.5 472.4,961.0 472.7,959.5 473.1,957.9 473.5,956.4 473.8,954.8 474.2,953.3 474.5,951.7 474.9,950.2 475.3,948.6 475.7,947.0 476.1,945.5 476.5,944.0 477.0,942.5 477.5,941.0 478.0,939.6 478.6,938.2 479.3,936.9 480.0,935.7 480.7,934.5 481.6,933.4 482.5,932.4 483.5,931.4 484.5,930.6 485.7,929.9 486.9,929.3 488.2,928.8 489.6,928.6 491.0,928.7 492.3,929.0 493.6,929.5 494.9,930.1 496.1,930.8 497.3,931.7 498.4,932.6 499.4,933.6 500.4,934.7 501.3,935.9 502.2,937.1 503.1,938.4 503.9,939.7 504.7,941.1 505.5,942.5 506.3,944.0 507.0,945.4 507.7,946.9 508.4,948.3 509.1,949.8 509.8,951.2 510.5,952.7 511.2,954.1 511.9,955.4 512.6,956.8 513.3,958.1 514.1,959.5 514.8,960.8 515.5,962.0 516.2,963.3 517.0,964.6 517.7,965.8 518.5,967.1 519.2,968.3 520.0,969.5 520.8,970.7 521.6,971.9 522.4,973.1 523.2,974.3 524.0,975.5 524.9,976.7 525.8,977.9 526.6,979.1 527.5,980.2 528.4,981.4 529.4,982.6 530.3,983.8 531.3,985.0 532.2,986.2 533.2,987.4 534.3,988.6 535.3,989.8 536.4,991.0 537.5,992.2 538.6,993.4 539.7,994.5 540.9,995.6 542.1,996.6 543.3,997.6 544.6,998.4 545.9,999.2 547.2,999.8 548.6,1000.3 550.0,1000.6 551.4,1000.9 552.9,1001.0 554.3,1001.0 555.8,1001.0 557.2,1000.8 558.7,1000.5 560.1,1000.2 561.6,999.7 563.0,999.2 564.4,998.6 565.8,997.9 567.1,997.2 568.4,996.4 569.6,995.6 570.8,994.7 571.9,993.8 573.0,992.8 574.1,991.8 575.1,990.7 576.1,989.6 577.0,988.4 578.0,987.3 578.8,986.1 579.7,984.8 580.5,983.5 581.3,982.2 582.0,980.9 582.7,979.6 583.5,978.2 584.1,976.8 584.8,975.4 585.4,974.0 586.1,972.6 586.7,971.1 587.3,969.7 587.9,968.3 588.5,966.8 589.0,965.4 589.6,963.9 590.2,962.5 590.7,961.0 591.3,959.6 591.9,958.2 592.4,956.8 593.0,955.4 593.6,954.0 594.1,952.6 594.7,951.3 595.3,949.9 595.9,948.6 596.4,947.2 597.0,945.9 597.6,944.5 598.1,943.2 598.7,941.8 599.2,940.5 599.7,939.1 600.3,937.7 600.8,936.3 601.3,934.9 601.7,933.5 602.2,932.1 602.7,930.6 603.1,929.1 603.5,927.6 603.9,926.1 603.9,927.6 603.8,929.1 603.8,930.6 603.7,932.1 603.7,933.7 603.6,935.2 603.6,936.7 603.5,938.2 603.5,939.7 603.4,941.2 603.3,942.7 603.2,944.2 603.2,945.7 603.1,947.2 603.0,948.7 602.9,950.2 602.8,951.7 602.7,953.2 602.6,954.8 602.5,956.3 602.4,957.8 602.3,959.3 602.1,960.8 602.0,962.3 601.9,963.8 601.8,965.3 601.6,966.8 601.5,968.3 601.3,969.8 601.2,971.3 601.0,972.8 600.9,974.3 600.7,975.8 600.6,977.3 600.4,978.8 600.2,980.2 600.1,981.7 599.9,983.2 599.7,984.7 599.5,986.2 599.3,987.7 599.1,989.2 598.9,990.7 598.7,992.2 598.5,993.7 598.3,995.2 598.1,996.7 597.9,998.1 597.7,999.6 597.5,1001.1 597.2,1002.6 597.0,1004.1 596.8,1005.6 596.5,1007.1 596.3,1008.6 596.0,1010.0 595.8,1011.5 595.5,1013.0 595.3,1014.5 595.0,1016.0 594.7,1017.4 594.5,1018.9 594.2,1020.4 593.9,1021.9 593.6,1023.4 593.4,1024.8 593.1,1026.3 592.8,1027.8 592.5,1029.3 592.2,1030.7 591.9,1032.2 591.6,1033.7 591.3,1035.1 590.9,1036.6 590.6,1038.1 590.3,1039.6 590.0,1041.0 589.6,1042.5 589.3,1044.0 589.0,1045.4 588.6,1046.9 588.3,1048.3 587.9,1049.8 587.6,1051.3 587.2,1052.7 586.9,1054.2 586.5,1055.7 586.1,1057.1 585.8,1058.6 585.4,1060.0 585.0,1061.5 584.6,1062.9 584.2,1064.4 583.8,1065.8 583.5,1067.3 583.1,1068.7 582.7,1070.2 582.2,1071.6 581.8,1073.1 581.4,1074.5 581.0,1076.0 580.6,1077.4 580.2,1078.9 579.7,1080.3 579.3,1081.8 578.9,1083.2 578.4,1084.7 578.0,1086.1 577.6,1087.5 577.1,1089.0 576.7,1090.4 576.2,1091.9 575.8,1093.3 575.3,1094.8 574.9,1096.2 574.5,1097.7 574.0,1099.1 573.6,1100.5 573.1,1102.0 572.7,1103.4 572.2,1104.9 571.8,1106.3 571.4,1107.8 570.9,1109.3 570.5,1110.7 570.1,1112.2 569.6,1113.6 569.2,1115.1 568.8,1116.6 568.4,1118.0 567.9,1119.5 567.5,1121.0 567.1,1122.4 566.7,1123.9 566.3,1125.4 565.9,1126.8 565.4,1128.3 565.0,1129.7 564.5,1131.2 564.1,1132.6 563.6,1134.1 563.1,1135.5 562.7,1136.9 562.1,1138.4 561.6,1139.8 561.1,1141.2 560.5,1142.5 559.9,1143.9 559.3,1145.3 558.7,1146.6 558.0,1147.9 557.4,1149.2 556.7,1150.5 555.9,1151.8 555.2,1153.1 554.4,1154.4 553.6,1155.6 552.8,1156.8 552.0,1158.1 551.1,1159.3 550.3,1160.5 549.4,1161.6 548.5,1162.8 547.5,1164.0 546.6,1165.1 545.6,1166.3 544.7,1167.4 543.7,1168.5 542.7,1169.6 541.6,1170.7 540.6,1171.8 539.6,1172.8 538.5,1173.9 537.4,1174.9 536.3,1176.0 535.2,1177.0 534.1,1178.0 533.0,1179.1 531.9,1180.1 530.7,1181.1 529.6,1182.1 528.4,1183.0 527.3,1184.0 526.1,1185.0 524.9,1186.0 523.8,1186.9 522.6,1187.9 521.4,1188.8 520.2,1189.7 519.0,1190.7 517.8,1191.6 516.6,1192.5 515.4,1193.4 514.2,1194.3 512.9,1195.2 511.7,1196.1 510.5,1197.0 509.3,1197.9 508.1,1198.8 506.8,1199.7 505.6,1200.6 504.4,1201.4 503.1,1202.3 501.9,1203.1 500.7,1204.0 499.4,1204.9 498.2,1205.7 496.9,1206.5 495.7,1207.4 494.4,1208.2 493.2,1209.1 491.9,1209.9 490.7,1210.7 489.4,1211.5 488.2,1212.4 486.9,1213.2 485.6,1214.0 484.3,1214.8 483.1,1215.6 481.8,1216.4 480.5,1217.2 479.2,1218.0 478.0,1218.8 476.7,1219.6 475.4,1220.4 474.1,1221.2 472.8,1222.0 471.5,1222.8 470.2,1223.5 468.9,1224.3 467.6,1225.1 466.3,1225.9 465.0,1226.6 463.7,1227.4 462.4,1228.2 461.1,1228.9 459.8,1229.7 458.5,1230.4 457.2,1231.1 455.8,1231.9 454.5,1232.6 453.2,1233.3 451.9,1234.0 450.5,1234.7 449.2,1235.4 447.8,1236.1 446.5,1236.8 445.2,1237.5 443.8,1238.1 442.5,1238.8 441.1,1239.5 439.7,1240.1 438.4,1240.7 437.0,1241.3 435.6,1241.9 434.3,1242.5 432.9,1243.1 431.5,1243.7 430.1,1244.2 428.7,1244.8 427.3,1245.3 426.0,1245.9 424.6,1246.4 423.2,1246.9 421.7,1247.3 420.3,1247.8 418.9,1248.3 417.5,1248.7 416.1,1249.1 414.7,1249.6 413.2,1250.0 411.8,1250.3 410.3,1250.7 408.9,1251.1 407.5,1251.4 406.0,1251.8 404.6,1252.1 403.1,1252.4 401.7,1252.7 400.2,1253.0 398.7,1253.3 397.3,1253.5 395.8,1253.8 394.3,1254.0 392.8,1254.3 391.4,1254.5 389.9,1254.7 388.4,1254.9 386.9,1255.1 385.4,1255.3 383.9,1255.5 382.4,1255.6 380.9,1255.8 379.4,1256.0 377.9,1256.1 376.4,1256.3 374.9,1256.4 373.4,1256.5 371.9,1256.6 370.4,1256.7 368.9,1256.8 367.4,1256.9 365.9,1257.0 364.4,1257.1 362.8,1257.2 361.3,1257.3 359.8,1257.4 358.3,1257.4 356.8,1257.5 355.3,1257.5 353.7,1257.6 352.2,1257.7 350.7,1257.7 349.2,1257.7 347.6,1257.8 346.1,1257.8 344.6,1257.9 343.0,1257.9 341.5,1257.9 340.0,1257.9 338.5,1258.0 336.9,1258.0 335.4,1258.0 333.9,1258.1 332.4,1258.1 330.8,1258.1 329.3,1258.1 327.8,1258.1 326.2,1258.2 324.7,1258.2 323.2,1258.2 321.7,1258.2 320.1,1258.3 318.6,1258.3 317.1,1258.3 315.6,1258.4 314.1,1258.4 312.5,1258.4 311.0,1258.5 309.5,1258.5 308.0,1258.6 306.5,1258.6 304.9,1258.7 303.4,1258.7 301.9,1258.8 300.4,1258.8 298.9,1258.9 297.4,1259.0 295.9,1259.1 294.4,1259.1 292.9,1259.2 291.4,1259.3 289.9,1259.4 288.4,1259.5 286.9,1259.6 285.4,1259.7 283.9,1259.8 282.4,1259.9 280.9,1260.0 279.4,1260.2 277.9,1260.3 276.5,1260.4 275.0,1260.5 273.5,1260.6 272.0,1260.8 270.5,1260.9 269.0,1261.0 267.5,1261.1 266.0,1261.3 264.6,1261.4 263.1,1261.5 261.6,1261.7 260.1,1261.8 258.6,1261.9 257.1,1262.1 255.6,1262.2 254.2,1262.3 252.7,1262.5 251.2,1262.6 249.7,1262.7 248.2,1262.8 246.7,1263.0 245.2,1263.1 243.7,1263.2 242.2,1263.3 240.7,1263.5 239.2,1263.6 237.8,1263.7 236.3,1263.8 234.8,1263.9 233.3,1264.0 231.8,1264.2 230.3,1264.3 228.8,1264.4 227.3,1264.5 225.8,1264.6 224.3,1264.7 222.8,1264.8 221.3,1264.9 219.8,1265.0 218.3,1265.1 216.8,1265.2 215.3,1265.3 213.8,1265.4 212.2,1265.5 210.7,1265.6 209.2,1265.7 207.7,1265.8 206.2,1265.9 204.7,1266.0 203.2,1266.1 201.7,1266.2 200.2,1266.3 198.7,1266.4 197.2,1266.5 195.7,1266.6 194.2,1266.7 192.7,1266.8 191.2,1266.9 189.6,1267.0 188.1,1267.1 186.6,1267.2 185.1,1267.3 183.6,1267.4 182.1,1267.5 180.6,1267.6 179.1,1267.7 177.6,1267.8 176.1,1267.9 174.6,1268.0 173.0,1268.1 171.5,1268.2 170.0,1268.3 168.5,1268.4 167.0,1268.5 165.5,1268.6 164.0,1268.7 162.5,1268.9 161.0,1269.0 159.5,1269.1 158.0,1269.2 156.5,1269.3 155.0,1269.4 153.5,1269.5 151.9,1269.7 150.4,1269.8 148.9,1269.9 147.4,1270.0 145.9,1270.2 144.4,1270.3 142.9,1270.4 141.4,1270.5 139.9,1270.7 138.4,1270.8 136.9,1270.9 135.4,1271.1 133.9,1271.2 132.4,1271.4 130.9,1271.5 129.4,1271.7 127.9,1271.8 126.4,1272.0 124.9,1272.1 123.4,1272.3 121.9,1272.4 120.4,1272.6 118.9,1272.8 117.5,1272.9 116.0,1273.1 114.5,1273.3 113.0,1273.4 111.5,1273.6 110.0,1273.8" stroke="#c00010"/>
<path d="M110.0,1240.0 111.5,1239.9 113.0,1239.8 114.5,1239.7 116.0,1239.6 117.5,1239.5 119.0,1239.4 120.5,1239.3 122.0,1239.2 123.5,1239.1 125.0,1239.0 126.5,1238.9 128.0,1238.8 129.5,1238.7 131.0,1238.6 132.5,1238.5 134.0,1238.4 135.5,1238.3 137.1,1238.2 138.6,1238.1 140.1,1238.0 141.6,1238.0 143.1,1237.9 144.6,1237.8 146.1,1237.7 147.6,1237.6 149.1,1237.5 150.6,1237.4 152.1,1237.4 153.6,1237.3 155.1,1237.2 156.6,1237.1 158.1,1237.0 159.6,1237.0 161.1,1236.9 162.6,1236.8 164.1,1236.7 165.6,1236.6 167.1,1236.6 168.7,1236.5 170.2,1236.4 171.7,1236.3 173.2,1236.3 174.7,1236.2 176.2,1236.1 177.7,1236.0 179.2,1235.9 180.7,1235.9 182.2,1235.8 183.7,1235.7 185.2,1235.6 186.7,1235.6 188.2,1235.5 189.7,1235.4 191.2,1235.3 192.8,1235.3 194.3,1235.2 195.8,1235.1 197.3,1235.0 198.8,1235.0 200.3,1234.9 201.8,1234.8 203.3,1234.7 204.8,1234.7 206.3,1234.6 207.8,1234.5 209.3,1234.4 210.8,1234.4 212.3,1234.3 213.8,1234.2 215.3,1234.1 216.8,1234.1 218.4,1234.0 219.9,1233.9 221.4,1233.8 222.9,1233.7 224.4,1233.7 225.9,1233.6 227.4,1233.5 228.9,1233.4 230.4,1233.3 231.9,1233.3 233.4,1233.2 234.9,1233.1 236.4,1233.0 237.9,1232.9 239.4,1232.8 240.9,1232.7 242.4,1232.7 243.9,1232.6 245.4,1232.5 246.9,1232.4 248.5,1232.3 250.0,1232.2 251.5,1232.1 253.0,1232.0 254.5,1231.9 256.0,1231.8 257.5,1231.8 259.0,1231.7 260.5,1231.6 262.0,1231.5 263.5,1231.4 265.0,1231.3 266.5,1231.2 268.0,1231.1 269.5,1231.0 271.0,1230.9 272.5,1230.8 274.0,1230.6 275.5,1230.5 277.0,1230.4 278.5,1230.3 280.0,1230.2 281.5,1230.1 283.0,1230.0 284.5,1229.9 286.0,1229.8 287.5,1229.6 289.0,1229.5 290.5,1229.4 292.0,1229.3 293.5,1229.1 295.0,1229.0 296.5,1228.9 298.0,1228.8 299.5,1228.6 301.0,1228.5 302.5,1228.4 304.0,1228.2 305.5,1228.1 307.0,1228.0 308.5,1227.8 310.0,1227.7 311.5,1227.5 313.0,1227.4 314.5,1227.3 316.0,1227.1 317.5,1227.0 319.0,1226.8 320.5,1226.6 322.0,1226.5 323.5,1226.3 325.0,1226.2 326.5,1226.0 328.0,1225.8 329.5,1225.7 331.0,1225.5 332.5,1225.3 334.0,1225.1 335.5,1225.0 336.9,1224.8 338.4,1224.6 339.9,1224.4 341.4,1224.2 342.9,1224.0 344.4,1223.8 345.9,1223.6 347.4,1223.4 348.9,1223.2 350.4,1223.0 351.9,1222.8 353.4,1222.5 354.9,1222.3 356.4,1222.1 357.9,1221.9 359.4,1221.6 360.9,1221.4 362.4,1221.2 363.8,1220.9 365.3,1220.7 366.8,1220.4 368.3,1220.2 369.8,1219.9 371.3,1219.6 372.8,1219.4 374.3,1219.1 375.8,1218.8 377.3,1218.5 378.8,1218.2 380.2,1217.9 381.7,1217.6 383.2,1217.2 384.7,1216.9 386.1,1216.5 387.6,1216.1 389.0,1215.7 390.5,1215.3 391.9,1214.9 393.3,1214.4 394.8,1213.9 396.2,1213.4 397.6,1212.9 398.9,1212.4 400.3,1211.8 401.7,1211.2 403.0,1210.5 404.4,1209.8 405.7,1209.2 407.0,1208.4 408.3,1207.7 409.6,1206.9 410.9,1206.1 412.1,1205.2 413.3,1204.4 414.5,1203.5 415.7,1202.5 416.9,1201.6 418.1,1200.6 419.2,1199.6 420.3,1198.6 421.4,1197.5 422.4,1196.4 423.5,1195.3 424.5,1194.2 425.4,1193.0 426.4,1191.8 427.3,1190.6 428.2,1189.4 429.1,1188.2 430.0,1186.9 430.8,1185.6 431.6,1184.3 432.5,1183.0 433.2,1181.7 434.0,1180.4 434.8,1179.1 435.5,1177.7 436.3,1176.4 437.0,1175.1 437.7,1173.8 438.4,1172.5 439.1,1171.1 439.8,1169.8 440.5,1168.5 441.2,1167.2 441.9,1165.9 442.6,1164.7 443.2,1163.4 443.9,1162.1 444.6,1160.8 445.2,1159.5 445.9,1158.2 446.5,1156.9 447.1,1155.6 447.8,1154.2 448.4,1152.9 449.0,1151.6 449.6,1150.2 450.2,1148.8 450.8,1147.4 451.4,1146.0 451.9,1144.6 452.5,1143.1 453.1,1141.6 453.6,1140.1 454.2,1138.6 454.7,1137.1 455.3,1135.6 455.9,1134.1 456.5,1132.6 457.1,1131.0 457.7,1129.6 458.3,1128.1 459.0,1126.6 459.7,1125.2 460.4,1123.8 461.1,1122.4 461.9,1121.1 462.7,1119.9 463.6,1118.6 464.5,1117.5 465.5,1116.4 466.5,1115.3 467.5,1114.4 468.7,1113.5 469.8,1112.7 471.0,1112.0 472.2,1111.3 473.5,1110.8 474.7,1110.4 476.0,1110.1 477.4,1109.9 478.7,1109.8 480.1,1109.9 481.4,1110.1 482.8,1110.4 484.2,1110.7 485.7,1111.1 487.1,1111.6 488.5,1112.1 490.0,1112.6 491.4,1113.1 492.9,1113.6 494.4,1114.1 495.9,1114.5 497.4,1115.0 498.9,1115.3 500.5,1115.7 502.0,1116.0 503.5,1116.3 505.0,1116.5 506.6,1116.7 508.1,1116.9 509.7,1117.0 511.2,1117.1 512.7,1117.2 514.3,1117.2 515.8,1117.2 517.3,1117.2 518.8,1117.1 520.3,1117.0 521.8,1116.8 523.3,1116.6 524.8,1116.4 526.2,1116.1 527.7,1115.8 529.1,1115.4 530.5,1115.0 531.9,1114.5 533.3,1114.1 534.6,1113.5 536.0,1113.0 537.3,1112.4 538.6,1111.7 539.9,1111.0 541.1,1110.3 542.4,1109.6 543.6,1108.8 544.8,1107.9 546.0,1107.1 547.1,1106.2 548.3,1105.3 549.4,1104.3 550.5,1103.4 551.6,1102.4 552.7,1101.3 553.8,1100.3 554.8,1099.2 555.9,1098.1 556.9,1097.0 557.9,1095.8 558.9,1094.7 559.9,1093.5 560.8,1092.3 561.8,1091.1 562.7,1089.8 563.6,1088.6 564.5,1087.3 565.4,1086.0 566.2,1084.7 567.1,1083.4 567.9,1082.1 568.8,1080.8 569.6,1079.5 570.4,1078.1 571.2,1076.8 572.0,1075.4 572.7,1074.1 573.5,1072.7 574.2,1071.3 574.9,1070.0 575.7,1068.6 576.4,1067.2 577.1,1065.9 577.7,1064.5 578.4,1063.2 579.1,1061.8 579.7,1060.5 580.4,1059.1 581.0,1057.8 581.6,1056.4 582.2,1055.1 582.8,1053.7 583.4,1052.4 584.0,1051.0 584.6,1049.7 585.2,1048.3 585.7,1047.0 586.3,1045.6 586.8,1044.3 587.4,1042.9 587.9,1041.6 588.5,1040.2 589.0,1038.8 589.5,1037.4 590.0,1036.1 590.5,1034.7 591.0,1033.3 591.5,1031.9 592.0,1030.5 592.5,1029.1 593.0,1027.7 593.5,1026.2 594.0,1024.8 594.4,1023.4 594.9,1021.9 595.4,1020.5 595.8,1019.0 596.3,1017.5 596.8,1016.0 597.2,1014.5 597.7,1013.0 597.6,1014.5 597.5,1016.0 597.4,1017.5 597.3,1019.0 597.2,1020.5 597.1,1022.0 596.9,1023.5 596.8,1025.0 596.7,1026.5 596.6,1028.0 596.4,1029.5 596.3,1031.0 596.2,1032.5 596.0,1034.0 595.9,1035.5 595.7,1037.0 595.5,1038.5 595.4,1040.0 595.2,1041.5 595.0,1043.0 594.9,1044.5 594.7,1046.0 594.5,1047.5 594.3,1049.0 594.1,1050.4 593.9,1051.9 593.7,1053.4 593.5,1054.9 593.3,1056.4 593.1,1057.9 592.8,1059.4 592.6,1060.9 592.4,1062.4 592.1,1063.9 591.9,1065.3 591.6,1066.8 591.4,1068.3 591.1,1069.8 590.9,1071.3 590.6,1072.7 590.3,1074.2 590.0,1075.7 589.8,1077.2 589.5,1078.7 589.2,1080.1 588.9,1081.6 588.6,1083.1 588.3,1084.5 587.9,1086.0 587.6,1087.5 587.3,1088.9 587.0,1090.4 586.6,1091.9 586.3,1093.3 585.9,1094.8 585.6,1096.3 585.2,1097.7 584.9,1099.2 584.5,1100.6 584.1,1102.1 583.7,1103.5 583.4,1105.0 583.0,1106.5 582.6,1107.9 582.2,1109.3 581.8,1110.8 581.4,1112.2 581.0,1113.7 580.5,1115.1 580.1,1116.6 579.7,1118.0 579.3,1119.4 578.8,1120.9 578.4,1122.3 577.9,1123.8 577.5,1125.2 577.0,1126.6 576.6,1128.1 576.1,1129.5 575.7,1130.9 575.2,1132.3 574.7,1133.8 574.3,1135.2 573.8,1136.6 573.3,1138.0 572.8,1139.4 572.3,1140.8 571.8,1142.2 571.3,1143.6 570.8,1145.0 570.2,1146.4 569.7,1147.8 569.1,1149.2 568.6,1150.6 568.0,1152.0 567.5,1153.4 566.9,1154.7 566.3,1156.1 565.7,1157.5 565.1,1158.8 564.4,1160.2 563.8,1161.6 563.2,1162.9 562.5,1164.3 561.8,1165.6 561.1,1166.9 560.5,1168.3 559.7,1169.6 559.0,1170.9 558.3,1172.2 557.6,1173.6 556.8,1174.9 556.0,1176.2 555.2,1177.5 554.4,1178.7 553.6,1180.0 552.8,1181.3 551.9,1182.6 551.1,1183.8 550.2,1185.1 549.3,1186.3 548.4,1187.5 547.5,1188.7 546.6,1190.0 545.6,1191.2 544.7,1192.3 543.7,1193.5 542.7,1194.7 541.7,1195.8 540.7,1196.9 539.7,1198.1 538.6,1199.2 537.6,1200.2 536.5,1201.3 535.4,1202.4 534.3,1203.4 533.2,1204.4 532.0,1205.4 530.9,1206.4 529.7,1207.3 528.6,1208.3 527.4,1209.2 526.2,1210.1 525.0,1211.0 523.7,1211.8 522.5,1212.6 521.2,1213.4 520.0,1214.2 518.7,1215.0 517.4,1215.7 516.1,1216.4 514.7,1217.0 513.4,1217.7 512.0,1218.3 510.7,1218.9 509.3,1219.5 507.9,1220.0 506.6,1220.6 505.2,1221.1 503.7,1221.6 502.3,1222.1 500.9,1222.5 499.5,1223.0 498.1,1223.5 496.6,1223.9 495.2,1224.3 493.7,1224.8 492.3,1225.2 490.8,1225.6 489.4,1226.0 487.9,1226.4 486.5,1226.8 485.0,1227.3 483.5,1227.7 482.1,1228.1 480.6,1228.5 479.2,1228.9 477.7,1229.3 476.2,1229.8 474.8,1230.2 473.3,1230.7 471.9,1231.1 470.5,1231.6 469.0,1232.1 467.6,1232.6 466.2,1233.1 464.7,1233.6 463.3,1234.1 461.9,1234.6 460.5,1235.1 459.1,1235.6 457.6,1236.2 456.2,1236.7 454.8,1237.2 453.4,1237.7 452.0,1238.3 450.6,1238.8 449.2,1239.3 447.8,1239.9 446.4,1240.4 444.9,1240.9 443.5,1241.4 442.1,1241.9 440.7,1242.4 439.3,1242.9 437.9,1243.4 436.5,1243.9 435.1,1244.4 433.6,1244.9 432.2,1245.3 430.8,1245.8 429.4,1246.2 427.9,1246.6 426.5,1247.1 425.1,1247.5 423.6,1247.9 422.2,1248.2 420.8,1248.6 419.3,1248.9 417.9,1249.2 416.4,1249.6 415.0,1249.8 413.5,1250.1 412.0,1250.4 410.6,1250.6 409.1,1250.9 407.6,1251.1 406.1,1251.3 404.6,1251.5 403.2,1251.7 401.7,1251.9 400.2,1252.1 398.7,1252.2 397.2,1252.4 395.7,1252.5 394.2,1252.6 392.7,1252.8 391.2,1252.9 389.7,1253.0 388.2,1253.1 386.7,1253.2 385.2,1253.3 383.7,1253.4 382.2,1253.5 380.7,1253.6 379.2,1253.7 377.7,1253.7 376.1,1253.8 374.6,1253.9 373.1,1254.0 371.6,1254.0 370.1,1254.1 368.6,1254.2 367.1,1254.3 365.6,1254.3 364.1,1254.4 362.6,1254.5 361.0,1254.6 359.5,1254.6 358.0,1254.7 356.5,1254.8 355.0,1254.9 353.5,1254.9 352.0,1255.0 350.5,1255.1 349.0,1255.2 347.5,1255.2 346.0,1255.3 344.5,1255.4 343.0,1255.5 341.4,1255.5 339.9,1255.6 338.4,1255.7 336.9,1255.8 335.4,1255.9 333.9,1255.9 332.4,1256.0 330.9,1256.1 329.4,1256.2 327.9,1256.2 326.4,1256.3 324.9,1256.4 323.4,1256.5 321.9,1256.5 320.4,1256.6 318.9,1256.7 317.4,1256.8 315.8,1256.9 314.3,1256.9 312.8,1257.0 311.3,1257.1 309.8,1257.2 308.3,1257.3 306.8,1257.3 305.3,1257.4 303.8,1257.5 302.3,1257.6 300.8,1257.6 299.3,1257.7 297.8,1257.8 296.3,1257.9 294.8,1258.0 293.3,1258.0 291.8,1258.1 290.3,1258.2 288.8,1258.3 287.3,1258.4 285.8,1258.4 284.3,1258.5 282.8,1258.6 281.3,1258.7 279.8,1258.8 278.3,1258.8 276.8,1258.9 275.3,1259.0 273.8,1259.1 272.3,1259.2 270.7,1259.2 269.2,1259.3 267.7,1259.4 266.2,1259.5 264.7,1259.6 263.2,1259.6 261.7,1259.7 260.2,1259.8 258.7,1259.9 257.2,1260.0 255.7,1260.0 254.2,1260.1 252.7,1260.2 251.2,1260.3 249.7,1260.4 248.2,1260.4 246.7,1260.5 245.2,1260.6 243.7,1260.7 242.2,1260.8 240.7,1260.8 239.2,1260.9 237.7,1261.0 236.2,1261.1 234.7,1261.2 233.2,1261.2 231.7,1261.3 230.2,1261.4 228.7,1261.5 227.2,1261.6 225.7,1261.7 224.2,1261.7 222.7,1261.8 221.2,1261.9 219.7,1262.0 218.2,1262.1 216.7,1262.1 215.2,1262.2 213.7,1262.3 212.2,1262.4 210.7,1262.5 209.2,1262.5 207.7,1262.6 206.2,1262.7 204.7,1262.8 203.2,1262.9 201.7,1262.9 200.2,1263.0 198.7,1263.1 197.2,1263.2 195.7,1263.3 194.2,1263.3 192.7,1263.4 191.2,1263.5 189.7,1263.6 188.2,1263.7 186.7,1263.7 185.2,1263.8 183.7,1263.9 182.2,1264.0 180.7,1264.1 179.2,1264.1 177.7,1264.2 176.2,1264.3 174.7,1264.4 173.2,1264.5 171.7,1264.5 170.2,1264.6 168.7,1264.7 167.1,1264.8 165.6,1264.8 164.1,1264.9 162.6,1265.0 161.1,1265.1 159.6,1265.2 158.1,1265.2 156.6,1265.3 155.1,1265.4 153.6,1265.5 152.1,1265.6 150.6,1265.6 149.1,1265.7 147.6,1265.8 146.1,1265.9 144.6,1265.9 143.1,1266.0 141.6,1266.1 140.1,1266.2 138.6,1266.3 137.1,1266.3 135.6,1266.4 134.1,1266.5 132.6,1266.6 131.1,1266.6 129.6,1266.7 128.1,1266.8 126.6,1266.9 125.1,1266.9 123.5,1267.0 122.0,1267.1 120.5,1267.2 119.0,1267.2 117.5,1267.3 116.0,1267.4 114.5,1267.5 113.0,1267.5 111.5,1267.6 110.0,1267.7" stroke="#12b0f0"/>
<path d="M110.0,1241.8 111.5,1241.8 113.0,1241.8 114.5,1241.9 116.0,1241.9 117.6,1241.9 119.1,1241.9 120.6,1241.9 122.1,1241.9 123.6,1241.9 125.1,1241.9 126.6,1241.9 128.1,1241.9 129.6,1241.9 131.1,1241.9 132.6,1241.9 134.1,1241.9 135.7,1241.9 137.2,1241.8 138.7,1241.8 140.2,1241.8 141.7,1241.8 143.2,1241.8 144.7,1241.7 146.2,1241.7 147.7,1241.7 149.2,1241.6 150.7,1241.6 152.2,1241.5 153.7,1241.5 155.2,1241.5 156.7,1241.4 158.2,1241.4 159.7,1241.3 161.2,1241.3 162.8,1241.2 164.3,1241.2 165.8,1241.1 167.3,1241.1 168.8,1241.0 170.3,1240.9 171.8,1240.9 173.3,1240.8 174.8,1240.8 176.3,1240.7 177.8,1240.6 179.3,1240.6 180.8,1240.5 182.3,1240.4 183.8,1240.4 185.3,1240.3 186.8,1240.2 188.3,1240.1 189.8,1240.1 191.3,1240.0 192.8,1239.9 194.3,1239.8 195.8,1239.8 197.3,1239.7 198.8,1239.6 200.3,1239.5 201.8,1239.5 203.3,1239.4 204.8,1239.3 206.3,1239.2 207.8,1239.1 209.3,1239.0 210.8,1239.0 212.3,1238.9 213.8,1238.8 215.3,1238.7 216.8,1238.6 218.3,1238.5 219.8,1238.5 221.3,1238.4 222.9,1238.3 224.4,1238.2 225.9,1238.1 227.4,1238.0 228.9,1237.9 230.4,1237.9 231.9,1237.8 233.4,1237.7 234.9,1237.6 236.4,1237.5 237.9,1237.4 239.4,1237.4 240.9,1237.3 242.4,1237.2 243.9,1237.1 245.4,1237.0 246.9,1236.9 248.4,1236.9 249.9,1236.8 251.4,1236.7 252.9,1236.6 254.4,1236.5 255.9,1236.5 257.4,1236.4 258.9,1236.3 260.4,1236.2 261.9,1236.2 263.4,1236.1 264.9,1236.0 266.4,1235.9 268.0,1235.9 269.5,1235.8 271.0,1235.7 272.5,1235.7 274.0,1235.6 275.5,1235.5 277.0,1235.5 278.5,1235.4 280.0,1235.4 281.5,1235.3 283.0,1235.2 284.5,1235.2 286.0,1235.1 287.5,1235.1 289.1,1235.0 290.6,1235.0 292.1,1234.9 293.6,1234.9 295.1,1234.8 296.6,1234.8 298.1,1234.7 299.6,1234.7 301.1,1234.7 302.6,1234.6 304.1,1234.6 305.7,1234.6 307.2,1234.5 308.7,1234.5 310.2,1234.5 311.7,1234.4 313.2,1234.4 314.7,1234.4 316.2,1234.3 317.7,1234.3 319.3,1234.3 320.8,1234.2 322.3,1234.2 323.8,1234.2 325.3,1234.2 326.8,1234.1 328.3,1234.1 329.8,1234.0 331.3,1234.0 332.9,1234.0 334.4,1233.9 335.9,1233.9 337.4,1233.8 338.9,1233.8 340.4,1233.7 341.9,1233.6 343.4,1233.6 344.9,1233.5 346.4,1233.4 347.9,1233.4 349.4,1233.3 350.9,1233.2 352.4,1233.1 353.9,1233.0 355.4,1232.9 356.9,1232.8 358.4,1232.7 359.9,1232.6 361.4,1232.5 362.9,1232.4 364.4,1232.2 365.9,1232.1 367.4,1231.9 368.9,1231.8 370.4,1231.6 371.9,1231.5 373.4,1231.3 374.9,1231.1 376.4,1230.9 377.9,1230.7 379.4,1230.5 380.8,1230.3 382.3,1230.1 383.8,1229.8 385.3,1229.6 386.8,1229.3 388.3,1229.1 389.7,1228.8 391.2,1228.5 392.7,1228.3 394.2,1228.0 395.6,1227.6 397.1,1227.3 398.6,1227.0 400.0,1226.7 401.5,1226.3 403.0,1225.9 404.4,1225.6 405.9,1225.2 407.3,1224.8 408.8,1224.4 410.3,1224.0 411.7,1223.6 413.2,1223.2 414.6,1222.8 416.1,1222.3 417.5,1221.9 419.0,1221.5 420.4,1221.0 421.9,1220.6 423.3,1220.2 424.8,1219.7 426.2,1219.3 427.7,1218.8 429.1,1218.4 430.5,1218.0 432.0,1217.5 433.4,1217.1 434.9,1216.7 436.3,1216.3 437.7,1215.8 439.2,1215.4 440.6,1215.0 442.0,1214.6 443.5,1214.3 444.9,1213.9 446.4,1213.5 447.8,1213.2 449.2,1212.8 450.7,1212.5 452.1,1212.2 453.6,1211.9 455.0,1211.6 456.5,1211.3 457.9,1211.0 459.4,1210.8 460.8,1210.5 462.3,1210.3 463.8,1210.0 465.2,1209.8 466.7,1209.5 468.2,1209.3 469.7,1209.1 471.1,1208.8 472.6,1208.6 474.1,1208.4 475.6,1208.1 477.1,1207.9 478.6,1207.7 480.1,1207.4 481.6,1207.2 483.1,1207.0 484.6,1206.7 486.1,1206.5 487.7,1206.3 489.2,1206.0 490.7,1205.7 492.2,1205.5 493.7,1205.2 495.2,1204.9 496.7,1204.7 498.2,1204.4 499.7,1204.1 501.2,1203.8 502.7,1203.4 504.2,1203.1 505.7,1202.8 507.2,1202.4 508.6,1202.1 510.1,1201.7 511.6,1201.3 513.0,1200.9 514.5,1200.5 515.9,1200.0 517.3,1199.6 518.8,1199.1 520.2,1198.6 521.6,1198.1 523.0,1197.6 524.4,1197.1 525.8,1196.5 527.1,1196.0 528.5,1195.4 529.8,1194.8 531.2,1194.1 532.5,1193.5 533.8,1192.8 535.1,1192.1 536.4,1191.4 537.6,1190.6 538.9,1189.8 540.1,1189.0 541.3,1188.2 542.6,1187.4 543.7,1186.5 544.9,1185.6 546.1,1184.7 547.3,1183.8 548.4,1182.8 549.5,1181.8 550.6,1180.8 551.7,1179.8 552.8,1178.8 553.9,1177.7 555.0,1176.7 556.0,1175.6 557.1,1174.5 558.1,1173.4 559.2,1172.3 560.2,1171.1 561.2,1170.0 562.2,1168.8 563.2,1167.7 564.2,1166.5 565.2,1165.3 566.1,1164.1 567.1,1162.9 568.1,1161.7 569.0,1160.5 570.0,1159.3 570.9,1158.1 571.9,1156.8 572.8,1155.6 573.7,1154.4 574.6,1153.2 575.6,1151.9 576.5,1150.7 577.4,1149.5 578.3,1148.3 579.2,1147.1 580.1,1145.8 581.0,1144.6 581.9,1143.4 582.8,1142.2 583.8,1141.0 584.7,1139.8 585.6,1138.7 586.5,1137.5 587.4,1136.3 588.3,1135.2 589.2,1134.0 590.1,1132.9 591.0,1131.8 590.9,1133.3 590.8,1134.7 590.7,1136.2 590.6,1137.7 590.5,1139.2 590.4,1140.7 590.2,1142.2 590.1,1143.6 589.9,1145.1 589.7,1146.6 589.5,1148.1 589.3,1149.6 589.1,1151.1 588.8,1152.6 588.6,1154.1 588.3,1155.6 588.0,1157.1 587.7,1158.6 587.4,1160.1 587.0,1161.6 586.7,1163.1 586.3,1164.6 585.9,1166.1 585.5,1167.5 585.1,1169.0 584.7,1170.5 584.2,1171.9 583.7,1173.4 583.3,1174.8 582.8,1176.2 582.2,1177.7 581.7,1179.1 581.1,1180.5 580.5,1181.9 579.9,1183.3 579.3,1184.6 578.7,1186.0 578.0,1187.3 577.4,1188.7 576.7,1190.0 576.0,1191.3 575.2,1192.6 574.5,1193.9 573.7,1195.2 572.9,1196.4 572.1,1197.7 571.2,1198.9 570.4,1200.1 569.5,1201.3 568.6,1202.5 567.6,1203.7 566.7,1204.8 565.7,1205.9 564.7,1207.0 563.7,1208.1 562.7,1209.2 561.6,1210.2 560.6,1211.3 559.5,1212.3 558.4,1213.3 557.2,1214.3 556.1,1215.2 554.9,1216.2 553.8,1217.1 552.6,1218.0 551.4,1218.9 550.2,1219.8 548.9,1220.7 547.7,1221.5 546.4,1222.4 545.2,1223.2 543.9,1224.0 542.6,1224.8 541.3,1225.6 540.0,1226.3 538.6,1227.1 537.3,1227.8 536.0,1228.5 534.6,1229.2 533.2,1229.9 531.9,1230.5 530.5,1231.2 529.1,1231.8 527.7,1232.4 526.3,1233.0 524.9,1233.6 523.5,1234.2 522.1,1234.8 520.7,1235.3 519.3,1235.8 517.8,1236.4 516.4,1236.9 515.0,1237.4 513.6,1237.8 512.1,1238.3 510.7,1238.7 509.2,1239.2 507.8,1239.6 506.3,1240.0 504.9,1240.4 503.4,1240.7 502.0,1241.1 500.5,1241.4 499.1,1241.8 497.6,1242.1 496.1,1242.4 494.7,1242.7 493.2,1243.0 491.7,1243.2 490.3,1243.5 488.8,1243.7 487.3,1243.9 485.8,1244.1 484.3,1244.3 482.9,1244.5 481.4,1244.7 479.9,1244.9 478.4,1245.1 476.9,1245.3 475.4,1245.4 473.9,1245.6 472.5,1245.7 471.0,1245.9 469.5,1246.1 468.0,1246.2 466.5,1246.4 465.0,1246.5 463.5,1246.6 462.0,1246.8 460.5,1246.9 459.0,1247.1 457.5,1247.2 456.0,1247.3 454.5,1247.5 453.0,1247.6 451.6,1247.7 450.1,1247.8 448.6,1247.9 447.1,1248.1 445.6,1248.2 444.1,1248.3 442.6,1248.4 441.1,1248.5 439.6,1248.6 438.1,1248.7 436.6,1248.8 435.1,1248.9 433.6,1249.0 432.1,1249.1 430.6,1249.2 429.1,1249.3 427.5,1249.4 426.0,1249.5 424.5,1249.6 423.0,1249.7 421.5,1249.8 420.0,1249.8 418.5,1249.9 417.0,1250.0 415.5,1250.1 414.0,1250.2 412.5,1250.2 411.0,1250.3 409.5,1250.4 408.0,1250.5 406.5,1250.5 405.0,1250.6 403.5,1250.7 402.0,1250.8 400.5,1250.8 398.9,1250.9 397.4,1251.0 395.9,1251.0 394.4,1251.1 392.9,1251.2 391.4,1251.2 389.9,1251.3 388.4,1251.4 386.9,1251.4 385.4,1251.5 383.9,1251.5 382.4,1251.6 380.9,1251.7 379.4,1251.7 377.8,1251.8 376.3,1251.9 374.8,1251.9 373.3,1252.0 371.8,1252.0 370.3,1252.1 368.8,1252.2 367.3,1252.2 365.8,1252.3 364.3,1252.3 362.8,1252.4 361.3,1252.5 359.8,1252.5 358.3,1252.6 356.8,1252.6 355.2,1252.7 353.7,1252.8 352.2,1252.8 350.7,1252.9 349.2,1252.9 347.7,1253.0 346.2,1253.0 344.7,1253.1 343.2,1253.2 341.7,1253.2 340.2,1253.3 338.7,1253.3 337.2,1253.4 335.7,1253.5 334.2,1253.5 332.7,1253.6 331.2,1253.6 329.7,1253.7 328.1,1253.7 326.6,1253.8 325.1,1253.9 323.6,1253.9 322.1,1254.0 320.6,1254.0 319.1,1254.1 317.6,1254.1 316.1,1254.2 314.6,1254.3 313.1,1254.3 311.6,1254.4 310.1,1254.4 308.6,1254.5 307.1,1254.5 305.6,1254.6 304.1,1254.7 302.6,1254.7 301.1,1254.8 299.6,1254.8 298.1,1254.9 296.6,1254.9 295.1,1255.0 293.5,1255.0 292.0,1255.1 290.5,1255.1 289.0,1255.2 287.5,1255.3 286.0,1255.3 284.5,1255.4 283.0,1255.4 281.5,1255.5 280.0,1255.5 278.5,1255.6 277.0,1255.6 275.5,1255.7 274.0,1255.7 272.5,1255.8 271.0,1255.8 269.5,1255.9 268.0,1255.9 266.5,1256.0 265.0,1256.1 263.5,1256.1 262.0,1256.2 260.5,1256.2 259.0,1256.3 257.5,1256.3 256.0,1256.4 254.5,1256.4 253.0,1256.5 251.4,1256.5 249.9,1256.6 248.4,1256.6 246.9,1256.7 245.4,1256.7 243.9,1256.8 242.4,1256.8 240.9,1256.9 239.4,1256.9 237.9,1257.0 236.4,1257.0 234.9,1257.1 233.4,1257.1 231.9,1257.1 230.4,1257.2 228.9,1257.2 227.4,1257.3 225.9,1257.3 224.4,1257.4 222.9,1257.4 221.4,1257.5 219.9,1257.5 218.4,1257.6 216.9,1257.6 215.4,1257.7 213.9,1257.7 212.4,1257.7 210.9,1257.8 209.4,1257.8 207.8,1257.9 206.3,1257.9 204.8,1258.0 203.3,1258.0 201.8,1258.1 200.3,1258.1 198.8,1258.1 197.3,1258.2 195.8,1258.2 194.3,1258.3 192.8,1258.3 191.3,1258.4 189.8,1258.4 188.3,1258.4 186.8,1258.5 185.3,1258.5 183.8,1258.6 182.3,1258.6 180.8,1258.6 179.3,1258.7 177.8,1258.7 176.3,1258.8 174.8,1258.8 173.3,1258.8 171.7,1258.9 170.2,1258.9 168.7,1258.9 167.2,1259.0 165.7,1259.0 164.2,1259.1 162.7,1259.1 161.2,1259.1 159.7,1259.2 158.2,1259.2 156.7,1259.2 155.2,1259.3 153.7,1259.3 152.2,1259.3 150.7,1259.4 149.2,1259.4 147.7,1259.5 146.2,1259.5 144.7,1259.5 143.1,1259.6 141.6,1259.6 140.1,1259.6 138.6,1259.6 137.1,1259.7 135.6,1259.7 134.1,1259.7 132.6,1259.8 131.1,1259.8 129.6,1259.8 128.1,1259.9 126.6,1259.9 125.1,1259.9 123.6,1260.0 122.1,1260.0 120.6,1260.0 119.0,1260.0 117.5,1260.1 116.0,1260.1 114.5,1260.1 113.0,1260.1 111.5,1260.2 110.0,1260.2" stroke="#ffbe00"/>
<path d="M110.0,1245.8 111.5,1245.8 113.0,1245.8 114.5,1245.8 116.0,1245.8 117.5,1245.8 119.0,1245.7 120.5,1245.7 122.1,1245.7 123.6,1245.7 125.1,1245.7 126.6,1245.7 128.1,1245.7 129.6,1245.6 131.1,1245.6 132.6,1245.6 134.1,1245.6 135.6,1245.6 137.1,1245.5 138.6,1245.5 140.1,1245.5 141.6,1245.5 143.1,1245.4 144.7,1245.4 146.2,1245.4 147.7,1245.4 149.2,1245.3 150.7,1245.3 152.2,1245.3 153.7,1245.2 155.2,1245.2 156.7,1245.2 158.2,1245.1 159.7,1245.1 161.2,1245.1 162.7,1245.0 164.2,1245.0 165.7,1245.0 167.3,1244.9 168.8,1244.9 170.3,1244.8 171.8,1244.8 173.3,1244.8 174.8,1244.7 176.3,1244.7 177.8,1244.6 179.3,1244.6 180.8,1244.5 182.3,1244.5 183.8,1244.4 185.3,1244.4 186.8,1244.3 188.3,1244.3 189.8,1244.2 191.4,1244.2 192.9,1244.1 194.4,1244.1 195.9,1244.0 197.4,1244.0 198.9,1243.9 200.4,1243.9 201.9,1243.8 203.4,1243.8 204.9,1243.7 206.4,1243.6 207.9,1243.6 209.4,1243.5 210.9,1243.5 212.4,1243.4 213.9,1243.3 215.4,1243.3 217.0,1243.2 218.5,1243.1 220.0,1243.1 221.5,1243.0 223.0,1243.0 224.5,1242.9 226.0,1242.8 227.5,1242.7 229.0,1242.7 230.5,1242.6 232.0,1242.5 233.5,1242.5 235.0,1242.4 236.5,1242.3 238.0,1242.2 239.5,1242.2 241.0,1242.1 242.5,1242.0 244.0,1241.9 245.6,1241.9 247.1,1241.8 248.6,1241.7 250.1,1241.6 251.6,1241.5 253.1,1241.5 254.6,1241.4 256.1,1241.3 257.6,1241.2 259.1,1241.1 260.6,1241.0 262.1,1241.0 263.6,1240.9 265.1,1240.8 266.6,1240.7 268.1,1240.6 269.6,1240.5 271.1,1240.4 272.6,1240.3 274.1,1240.2 275.6,1240.2 277.2,1240.1 278.7,1240.0 280.2,1239.9 281.7,1239.8 283.2,1239.7 284.7,1239.6 286.2,1239.5 287.7,1239.4 289.2,1239.3 290.7,1239.2 292.2,1239.1 293.7,1239.0 295.2,1238.9 296.7,1238.8 298.2,1238.7 299.7,1238.6 301.2,1238.5 302.7,1238.4 304.2,1238.3 305.7,1238.2 307.2,1238.1 308.7,1238.0 310.2,1237.9 311.7,1237.8 313.2,1237.6 314.7,1237.5 316.3,1237.4 317.8,1237.3 319.3,1237.2 320.8,1237.1 322.3,1237.0 323.8,1236.9 325.3,1236.8 326.8,1236.6 328.3,1236.5 329.8,1236.4 331.3,1236.3 332.8,1236.2 334.3,1236.1 335.8,1236.0 337.3,1235.8 338.8,1235.7 340.3,1235.6 341.8,1235.5 343.3,1235.4 344.8,1235.2 346.3,1235.1 347.8,1235.0 349.3,1234.9 350.8,1234.7 352.3,1234.6 353.8,1234.5 355.3,1234.4 356.8,1234.2 358.3,1234.1 359.8,1234.0 361.3,1233.9 362.8,1233.7 364.3,1233.6 365.8,1233.5 367.3,1233.3 368.8,1233.2 370.3,1233.1 371.8,1233.0 373.3,1232.8 374.8,1232.7 376.3,1232.6 377.9,1232.4 379.4,1232.3 380.9,1232.2 382.4,1232.0 383.9,1231.9 385.4,1231.7 386.9,1231.6 388.4,1231.5 389.9,1231.3 391.4,1231.2 392.9,1231.1 394.4,1230.9 395.9,1230.8 397.4,1230.6 398.9,1230.5 400.4,1230.3 401.9,1230.2 403.4,1230.1 404.9,1229.9 406.4,1229.8 407.9,1229.6 409.4,1229.5 410.9,1229.3 412.4,1229.2 413.9,1229.0 415.4,1228.9 416.9,1228.7 418.4,1228.6 419.9,1228.5 421.4,1228.3 422.9,1228.2 424.4,1228.0 425.9,1227.8 427.4,1227.7 428.9,1227.5 430.4,1227.4 431.9,1227.2 433.4,1227.1 434.9,1226.9 436.4,1226.8 437.9,1226.6 439.4,1226.5 440.9,1226.3 442.4,1226.2 443.9,1226.0 445.4,1225.8 446.9,1225.7 448.4,1225.5 449.9,1225.4 451.4,1225.2 452.9,1225.0 454.4,1224.9 455.9,1224.7 457.4,1224.6 458.8,1224.4 460.3,1224.2 461.8,1224.1 463.3,1223.9 464.8,1223.7 466.3,1223.6 467.8,1223.4 469.3,1223.3 470.8,1223.1 472.3,1222.9 473.8,1222.8 475.3,1222.6 476.8,1222.4 478.3,1222.3 479.8,1222.1 481.3,1221.9 482.8,1221.7 484.3,1221.6 485.8,1221.4 487.3,1221.2 488.8,1221.0 490.3,1220.9 491.8,1220.7 493.3,1220.5 494.8,1220.3 496.3,1220.1 497.8,1220.0 499.3,1219.8 500.8,1219.6 502.3,1219.4 503.8,1219.2 505.2,1219.0 506.7,1218.8 508.2,1218.6 509.7,1218.4 511.2,1218.2 512.7,1218.0 514.2,1217.8 515.7,1217.6 517.2,1217.4 518.7,1217.2 520.2,1217.0 521.7,1216.8 523.1,1216.6 524.6,1216.3 526.1,1216.1 527.6,1215.9 529.1,1215.7 530.6,1215.4 532.1,1215.2 533.6,1215.0 535.0,1214.7 536.5,1214.5 538.0,1214.2 539.5,1214.0 541.0,1213.7 542.5,1213.5 543.9,1213.2 545.4,1213.0 546.9,1212.7 548.4,1212.4 549.9,1212.1 551.3,1211.9 552.8,1211.6 554.3,1211.3 555.8,1211.0 557.3,1210.7 558.7,1210.4 560.2,1210.1 561.7,1209.8 563.2,1209.5 564.6,1209.2 566.1,1208.9 567.6,1208.6 569.0,1208.2 570.5,1207.9 572.0,1207.6 573.4,1207.2 574.9,1206.9 576.4,1206.5 577.8,1206.2 579.3,1205.8 580.8,1205.5 582.2,1205.1 583.7,1204.7 585.2,1204.4 586.6,1204.0 588.1,1203.6 589.5,1203.2 591.0,1202.8 589.9,1204.0 588.8,1205.2 587.7,1206.3 586.6,1207.4 585.4,1208.4 584.3,1209.4 583.1,1210.4 581.9,1211.4 580.7,1212.3 579.5,1213.2 578.2,1214.0 577.0,1214.8 575.7,1215.6 574.5,1216.4 573.2,1217.1 571.9,1217.8 570.6,1218.5 569.2,1219.1 567.9,1219.7 566.6,1220.3 565.2,1220.9 563.9,1221.4 562.5,1221.9 561.1,1222.4 559.7,1222.9 558.3,1223.3 556.9,1223.8 555.5,1224.2 554.1,1224.6 552.6,1224.9 551.2,1225.3 549.7,1225.6 548.3,1225.9 546.8,1226.2 545.3,1226.5 543.9,1226.8 542.4,1227.1 540.9,1227.3 539.4,1227.5 537.9,1227.8 536.4,1228.0 534.9,1228.2 533.4,1228.3 531.9,1228.5 530.3,1228.7 528.8,1228.9 527.3,1229.0 525.8,1229.2 524.3,1229.3 522.7,1229.4 521.2,1229.6 519.7,1229.7 518.1,1229.8 516.6,1230.0 515.1,1230.1 513.5,1230.2 512.0,1230.3 510.4,1230.5 508.9,1230.6 507.4,1230.7 505.8,1230.8 504.3,1231.0 502.8,1231.1 501.3,1231.2 499.7,1231.4 498.2,1231.5 496.7,1231.7 495.2,1231.9 493.7,1232.0 492.1,1232.2 490.6,1232.4 489.1,1232.5 487.6,1232.7 486.1,1232.9 484.6,1233.1 483.1,1233.2 481.6,1233.4 480.1,1233.6 478.6,1233.8 477.1,1234.0 475.6,1234.2 474.1,1234.4 472.6,1234.6 471.1,1234.8 469.6,1235.0 468.1,1235.2 466.6,1235.4 465.1,1235.6 463.6,1235.8 462.2,1236.0 460.7,1236.2 459.2,1236.4 457.7,1236.6 456.2,1236.8 454.7,1237.0 453.2,1237.2 451.7,1237.4 450.2,1237.6 448.8,1237.8 447.3,1238.0 445.8,1238.2 444.3,1238.4 442.8,1238.6 441.3,1238.7 439.8,1238.9 438.3,1239.1 436.8,1239.3 435.3,1239.5 433.9,1239.6 432.4,1239.8 430.9,1240.0 429.4,1240.1 427.9,1240.3 426.4,1240.4 424.9,1240.6 423.4,1240.7 421.9,1240.9 420.4,1241.0 418.9,1241.2 417.4,1241.3 415.9,1241.4 414.4,1241.5 412.9,1241.7 411.4,1241.8 409.9,1241.9 408.4,1242.0 406.9,1242.1 405.3,1242.2 403.8,1242.3 402.3,1242.4 400.8,1242.5 399.3,1242.6 397.8,1242.7 396.3,1242.8 394.8,1242.9 393.3,1243.0 391.8,1243.1 390.2,1243.2 388.7,1243.3 387.2,1243.3 385.7,1243.4 384.2,1243.5 382.7,1243.6 381.2,1243.6 379.6,1243.7 378.1,1243.8 376.6,1243.8 375.1,1243.9 373.6,1244.0 372.1,1244.0 370.5,1244.1 369.0,1244.1 367.5,1244.2 366.0,1244.2 364.5,1244.3 363.0,1244.3 361.4,1244.4 359.9,1244.4 358.4,1244.5 356.9,1244.5 355.4,1244.6 353.8,1244.6 352.3,1244.7 350.8,1244.7 349.3,1244.8 347.8,1244.8 346.2,1244.8 344.7,1244.9 343.2,1244.9 341.7,1245.0 340.2,1245.0 338.6,1245.0 337.1,1245.1 335.6,1245.1 334.1,1245.2 332.6,1245.2 331.0,1245.2 329.5,1245.3 328.0,1245.3 326.5,1245.4 325.0,1245.4 323.4,1245.4 321.9,1245.5 320.4,1245.5 318.9,1245.5 317.4,1245.6 315.9,1245.6 314.3,1245.7 312.8,1245.7 311.3,1245.8 309.8,1245.8 308.3,1245.8 306.7,1245.9 305.2,1245.9 303.7,1246.0 302.2,1246.0 300.7,1246.1 299.2,1246.1 297.7,1246.2 296.1,1246.2 294.6,1246.3 293.1,1246.3 291.6,1246.4 290.1,1246.4 288.6,1246.5 287.1,1246.6 285.6,1246.6 284.1,1246.7 282.5,1246.8 281.0,1246.8 279.5,1246.9 278.0,1247.0 276.5,1247.0 275.0,1247.1 273.5,1247.2 272.0,1247.3 270.5,1247.4 269.0,1247.4 267.5,1247.5 266.0,1247.6 264.5,1247.7 263.0,1247.8 261.5,1247.9 260.0,1248.0" stroke="#14a843"/>
<path d="M260.0,1248.0 258.5,1248.1 257.0,1248.1 255.5,1248.2 253.9,1248.2 252.4,1248.3 250.9,1248.3 249.4,1248.4 247.9,1248.4 246.4,1248.4 244.9,1248.5 243.3,1248.5 241.8,1248.6 240.3,1248.6 238.8,1248.7 237.3,1248.7 235.8,1248.8 234.3,1248.8 232.7,1248.8 231.2,1248.9 229.7,1248.9 228.2,1249.0 226.7,1249.0 225.2,1249.0 223.6,1249.1 222.1,1249.1 220.6,1249.1 219.1,1249.2 217.6,1249.2 216.1,1249.3 214.6,1249.3 213.0,1249.3 211.5,1249.4 210.0,1249.4 208.5,1249.4 207.0,1249.5 205.5,1249.5 204.0,1249.5 202.4,1249.6 200.9,1249.6 199.4,1249.6 197.9,1249.6 196.4,1249.7 194.9,1249.7 193.3,1249.7 191.8,1249.8 190.3,1249.8 188.8,1249.8 187.3,1249.8 185.8,1249.9 184.3,1249.9 182.7,1249.9 181.2,1249.9 179.7,1250.0 178.2,1250.0 176.7,1250.0 175.2,1250.0 173.6,1250.0 172.1,1250.1 170.6,1250.1 169.1,1250.1 167.6,1250.1 166.1,1250.1 164.6,1250.2 163.0,1250.2 161.5,1250.2 160.0,1250.2 158.5,1250.2 157.0,1250.2 155.5,1250.3 153.9,1250.3 152.4,1250.3 150.9,1250.3 149.4,1250.3 147.9,1250.3 146.4,1250.4 144.9,1250.4 143.3,1250.4 141.8,1250.4 140.3,1250.4 138.8,1250.4 137.3,1250.4 135.8,1250.4 134.2,1250.5 132.7,1250.5 131.2,1250.5 129.7,1250.5 128.2,1250.5 126.7,1250.5 125.2,1250.5 123.6,1250.5 122.1,1250.5 120.6,1250.5 119.1,1250.6 117.6,1250.6 116.1,1250.6 114.5,1250.6 113.0,1250.6 111.5,1250.6 110.0,1250.6" stroke="#14a843" stroke-opacity="0.4" stroke-width="2.2"/>
<path d="M110.0,1246.4 111.5,1246.4 113.0,1246.4 114.5,1246.4 116.0,1246.4 117.5,1246.4 119.0,1246.4 120.5,1246.4 122.1,1246.4 123.6,1246.4 125.1,1246.4 126.6,1246.4 128.1,1246.4 129.6,1246.4 131.1,1246.4 132.6,1246.4 134.1,1246.4 135.6,1246.4 137.1,1246.4 138.6,1246.4 140.1,1246.4 141.6,1246.4 143.2,1246.4 144.7,1246.4 146.2,1246.4 147.7,1246.4 149.2,1246.4 150.7,1246.4 152.2,1246.4 153.7,1246.4 155.2,1246.4 156.7,1246.3 158.2,1246.3 159.7,1246.3 161.2,1246.3 162.7,1246.3 164.3,1246.3 165.8,1246.3 167.3,1246.3 168.8,1246.3 170.3,1246.2 171.8,1246.2 173.3,1246.2 174.8,1246.2 176.3,1246.2 177.8,1246.2 179.3,1246.2 180.8,1246.1 182.3,1246.1 183.8,1246.1 185.3,1246.1 186.9,1246.1 188.4,1246.0 189.9,1246.0 191.4,1246.0 192.9,1246.0 194.4,1246.0 195.9,1245.9 197.4,1245.9 198.9,1245.9 200.4,1245.9 201.9,1245.9 203.4,1245.8 204.9,1245.8 206.4,1245.8 207.9,1245.8 209.5,1245.7 211.0,1245.7 212.5,1245.7 214.0,1245.7 215.5,1245.6 217.0,1245.6 218.5,1245.6 220.0,1245.6 221.5,1245.5 223.0,1245.5 224.5,1245.5 226.0,1245.4 227.5,1245.4 229.0,1245.4 230.5,1245.3 232.1,1245.3 233.6,1245.3 235.1,1245.3 236.6,1245.2 238.1,1245.2 239.6,1245.2 241.1,1245.1 242.6,1245.1 244.1,1245.1 245.6,1245.0 247.1,1245.0 248.6,1245.0 250.1,1244.9 251.6,1244.9 253.1,1244.8 254.7,1244.8 256.2,1244.8 257.7,1244.7 259.2,1244.7 260.7,1244.7 262.2,1244.6 263.7,1244.6 265.2,1244.5 266.7,1244.5 268.2,1244.5 269.7,1244.4 271.2,1244.4 272.7,1244.3 274.2,1244.3 275.7,1244.2 277.2,1244.2 278.8,1244.2 280.3,1244.1 281.8,1244.1 283.3,1244.0 284.8,1244.0 286.3,1243.9 287.8,1243.9 289.3,1243.9 290.8,1243.8 292.3,1243.8 293.8,1243.7 295.3,1243.7 296.8,1243.6 298.3,1243.6 299.8,1243.5 301.3,1243.5 302.9,1243.4 304.4,1243.4 305.9,1243.3 307.4,1243.3 308.9,1243.2 310.4,1243.2 311.9,1243.1 313.4,1243.1 314.9,1243.0 316.4,1243.0 317.9,1242.9 319.4,1242.9 320.9,1242.8 322.4,1242.8 323.9,1242.7 325.4,1242.7 327.0,1242.6 328.5,1242.5 330.0,1242.5 331.5,1242.4 333.0,1242.4 334.5,1242.3 336.0,1242.3 337.5,1242.2 339.0,1242.2 340.5,1242.1 342.0,1242.0 343.5,1242.0 345.0,1241.9 346.5,1241.9 348.0,1241.8 349.5,1241.8 351.0,1241.7 352.6,1241.6 354.1,1241.6 355.6,1241.5 357.1,1241.5 358.6,1241.4 360.1,1241.3 361.6,1241.3 363.1,1241.2 364.6,1241.2 366.1,1241.1 367.6,1241.0 369.1,1241.0 370.6,1240.9 372.1,1240.8 373.6,1240.8 375.1,1240.7 376.6,1240.7 378.1,1240.6 379.7,1240.5 381.2,1240.5 382.7,1240.4 384.2,1240.3 385.7,1240.3 387.2,1240.2 388.7,1240.1 390.2,1240.1 391.7,1240.0 393.2,1239.9 394.7,1239.9 396.2,1239.8 397.7,1239.7 399.2,1239.7 400.7,1239.6 402.2,1239.5 403.7,1239.5 405.2,1239.4 406.8,1239.3 408.3,1239.3 409.8,1239.2 411.3,1239.1 412.8,1239.0 414.3,1239.0 415.8,1238.9 417.3,1238.8 418.8,1238.8 420.3,1238.7 421.8,1238.6 423.3,1238.5 424.8,1238.5 426.3,1238.4 427.8,1238.3 429.3,1238.3 430.8,1238.2 432.3,1238.1 433.8,1238.0 435.3,1238.0 436.9,1237.9 438.4,1237.8 439.9,1237.7 441.4,1237.7 442.9,1237.6 444.4,1237.5 445.9,1237.4 447.4,1237.4 448.9,1237.3 450.4,1237.2 451.9,1237.1 453.4,1237.1 454.9,1237.0 456.4,1236.9 457.9,1236.8 459.4,1236.8 460.9,1236.7 462.4,1236.6 463.9,1236.5 465.4,1236.5 467.0,1236.4 468.5,1236.3 470.0,1236.2 471.5,1236.1 473.0,1236.1 474.5,1236.0 476.0,1235.9 477.5,1235.8 479.0,1235.7 480.5,1235.7 482.0,1235.6 483.5,1235.5 485.0,1235.4 486.5,1235.3 488.0,1235.3 489.5,1235.2 491.0,1235.1 492.5,1235.0 494.0,1234.9 495.5,1234.9 497.0,1234.8 498.5,1234.7 500.1,1234.6 501.6,1234.5 503.1,1234.4 504.6,1234.3 506.1,1234.3 507.6,1234.2 509.1,1234.1 510.6,1234.0 512.1,1233.9 513.6,1233.8 515.1,1233.7 516.6,1233.6 518.1,1233.5 519.6,1233.4 521.1,1233.3 522.6,1233.2 524.1,1233.1 525.6,1233.0 527.1,1232.9 528.6,1232.8 530.1,1232.7 531.6,1232.6 533.1,1232.5 534.6,1232.4 536.1,1232.3 537.6,1232.2 539.1,1232.1 540.6,1232.0 542.1,1231.9 543.6,1231.8 545.1,1231.6 546.6,1231.5 548.1,1231.4 549.6,1231.3 551.1,1231.2 552.6,1231.0 554.1,1230.9 555.6,1230.8 557.1,1230.7 558.6,1230.5 560.1,1230.4 561.6,1230.3 563.1,1230.1 564.6,1230.0 566.1,1229.8 567.6,1229.7 569.1,1229.5 570.6,1229.4 572.1,1229.2 573.6,1229.1 575.1,1228.9 576.6,1228.8 578.1,1228.6 579.6,1228.5 581.1,1228.3 582.6,1228.1 584.1,1228.0 585.6,1227.8 587.1,1227.6 588.6,1227.5 590.1,1227.3 591.6,1227.1" stroke="#000066" stroke-width="3.8"/>
<path d="M110.0,1247.6 111.5,1247.6 113.0,1247.6 114.5,1247.5 116.0,1247.5 117.5,1247.5 119.0,1247.5 120.5,1247.4 122.0,1247.4 123.5,1247.4 125.0,1247.4 126.5,1247.4 128.0,1247.4 129.5,1247.3 131.0,1247.3 132.5,1247.3 134.0,1247.3 135.6,1247.3 137.1,1247.2 138.6,1247.2 140.1,1247.2 141.6,1247.2 143.1,1247.2 144.6,1247.2 146.1,1247.2 147.6,1247.1 149.1,1247.1 150.6,1247.1 152.1,1247.1 153.6,1247.1 155.1,1247.1 156.6,1247.1 158.1,1247.1 159.6,1247.0 161.1,1247.0 162.6,1247.0 164.1,1247.0 165.6,1247.0 167.1,1247.0 168.6,1247.0 170.1,1247.0 171.7,1247.0 173.2,1247.0 174.7,1247.0 176.2,1246.9 177.7,1246.9 179.2,1246.9 180.7,1246.9 182.2,1246.9 183.7,1246.9 185.2,1246.9 186.7,1246.9 188.2,1246.9 189.7,1246.9 191.2,1246.9 192.7,1246.9 194.2,1246.9 195.7,1246.9 197.2,1246.9 198.7,1246.9 200.2,1246.8 201.8,1246.8 203.3,1246.8 204.8,1246.8 206.3,1246.8 207.8,1246.8 209.3,1246.8 210.8,1246.8 212.3,1246.8 213.8,1246.8 215.3,1246.8 216.8,1246.8 218.3,1246.8 219.8,1246.8 221.3,1246.8 222.8,1246.8 224.3,1246.8 225.8,1246.8 227.3,1246.8 228.9,1246.8 230.4,1246.8 231.9,1246.8 233.4,1246.8 234.9,1246.8 236.4,1246.8 237.9,1246.8 239.4,1246.7 240.9,1246.7 242.4,1246.7 243.9,1246.7 245.4,1246.7 246.9,1246.7 248.4,1246.7 249.9,1246.7 251.4,1246.7 252.9,1246.7 254.5,1246.7 256.0,1246.7 257.5,1246.7 259.0,1246.7 260.5,1246.7 262.0,1246.7 263.5,1246.7 265.0,1246.7 266.5,1246.7 268.0,1246.7 269.5,1246.7 271.0,1246.7 272.5,1246.7 274.0,1246.7 275.5,1246.7 277.0,1246.7 278.6,1246.7 280.1,1246.6 281.6,1246.6 283.1,1246.6 284.6,1246.6 286.1,1246.6 287.6,1246.6 289.1,1246.6 290.6,1246.6 292.1,1246.6 293.6,1246.6 295.1,1246.6 296.6,1246.6 298.1,1246.6 299.6,1246.6 301.2,1246.6 302.7,1246.5 304.2,1246.5 305.7,1246.5 307.2,1246.5 308.7,1246.5 310.2,1246.5 311.7,1246.5 313.2,1246.5 314.7,1246.5 316.2,1246.5 317.7,1246.5 319.2,1246.4 320.7,1246.4 322.2,1246.4 323.7,1246.4 325.3,1246.4 326.8,1246.4 328.3,1246.4 329.8,1246.4 331.3,1246.3 332.8,1246.3 334.3,1246.3 335.8,1246.3 337.3,1246.3 338.8,1246.3 340.3,1246.3 341.8,1246.2 343.3,1246.2 344.8,1246.2 346.3,1246.2 347.8,1246.2 349.4,1246.2 350.9,1246.1 352.4,1246.1 353.9,1246.1 355.4,1246.1 356.9,1246.1 358.4,1246.0 359.9,1246.0 361.4,1246.0 362.9,1246.0 364.4,1246.0 365.9,1245.9 367.4,1245.9 368.9,1245.9 370.4,1245.9 371.9,1245.8 373.5,1245.8 375.0,1245.8 376.5,1245.8 378.0,1245.7 379.5,1245.7 381.0,1245.7 382.5,1245.7 384.0,1245.6 385.5,1245.6 387.0,1245.6 388.5,1245.5 390.0,1245.5 391.5,1245.5 393.0,1245.4 394.5,1245.4 396.0,1245.4 397.5,1245.3 399.1,1245.3 400.6,1245.3 402.1,1245.2 403.6,1245.2 405.1,1245.2 406.6,1245.1 408.1,1245.1 409.6,1245.1 411.1,1245.0 412.6,1245.0 414.1,1244.9 415.6,1244.9 417.1,1244.9 418.6,1244.8 420.1,1244.8 421.6,1244.7 423.1,1244.7 424.6,1244.6 426.2,1244.6 427.7,1244.6 429.2,1244.5 430.7,1244.5 432.2,1244.4 433.7,1244.4 435.2,1244.3 436.7,1244.3 438.2,1244.2 439.7,1244.2 441.2,1244.1 442.7,1244.0 444.2,1244.0 445.7,1243.9 447.2,1243.9 448.7,1243.8 450.2,1243.8 451.7,1243.7 453.2,1243.7 454.7,1243.6 456.2,1243.5 457.7,1243.5 459.3,1243.4 460.8,1243.3 462.3,1243.3 463.8,1243.2 465.3,1243.2 466.8,1243.1 468.3,1243.0 469.8,1243.0 471.3,1242.9 472.8,1242.8 474.3,1242.7 475.8,1242.7 477.3,1242.6 478.8,1242.5 480.3,1242.5 481.8,1242.4 483.3,1242.3 484.8,1242.2 486.3,1242.2 487.8,1242.1 489.3,1242.0 490.8,1241.9 492.3,1241.8 493.8,1241.7 495.3,1241.7 496.8,1241.6 498.3,1241.5 499.8,1241.4 501.3,1241.3 502.8,1241.2 504.3,1241.1 505.8,1241.0 507.3,1240.9 508.8,1240.8 510.3,1240.7 511.8,1240.5 513.3,1240.4 514.8,1240.3 516.3,1240.2 517.8,1240.1 519.3,1239.9 520.8,1239.8 522.3,1239.7 523.8,1239.5 525.3,1239.4 526.8,1239.2 528.3,1239.1 529.8,1238.9 531.3,1238.7 532.8,1238.6 534.3,1238.4 535.7,1238.2 537.2,1238.0 538.7,1237.9 540.2,1237.7 541.7,1237.5 543.2,1237.3 544.7,1237.1 546.1,1236.9 547.6,1236.6 549.1,1236.4 550.6,1236.2 552.1,1236.0 553.6,1235.7 555.0,1235.5 556.5,1235.2 558.0,1235.0 559.5,1234.7 560.9,1234.4 562.4,1234.2 563.9,1233.9 565.3,1233.6 566.8,1233.3 568.3,1233.0 569.7,1232.7 571.2,1232.4 572.7,1232.0 574.1,1231.7 575.6,1231.4 577.1,1231.0 578.5,1230.7 580.0,1230.3 581.4,1229.9 582.9,1229.5 584.4,1229.2 585.8,1228.8 587.3,1228.4 588.7,1228.0 590.2,1227.5 591.6,1227.1" stroke="#000066" stroke-width="3.8"/>
</g>
<g stroke="#000" stroke-width="3" fill="none">
<path d="M102,802.8 H110 V1286.7"/>
<path d="M102,882.1 H110 M102,961.5 H110 M102,1040.9 H110 M102,1120.2 H110 M102,1199.6 H110"/>
<path d="M102,1278.8 H654.2 V1286.7"/>
<path d="M246.4,1278.8 V1286.7 M382.6,1278.8 V1286.7 M517.8,1278.8 V1286.7"/>
</g>
<g>
<path d="M150.2,825.6 H180.5" stroke="#c00008" stroke-width="3.8"/>
<path d="M149.6,865.4 H179" stroke="#14aaf0" stroke-width="3.8"/>
<path d="M149.6,905 H179" stroke="#ffb900" stroke-width="3.7"/>
<path d="M149.6,944.7 H179" stroke="#14a84a" stroke-width="4.1"/>
<path d="M149.6,984.3 H179" stroke="#101060" stroke-width="4"/>
</g>
<text transform="translate(52.11,71.01) scale(1.1162,1.0000)" font-size="27" fill="#000">20</text>
<text transform="translate(51.90,174.13) scale(1.1437,1.0000)" font-size="27" fill="#000">16</text>
<text transform="translate(52.59,275.85) scale(1.0975,1.0000)" font-size="27" fill="#000">12</text>
<text transform="translate(66.80,377.92) scale(1.0750,1.0000)" font-size="27" fill="#000">8</text>
<text transform="translate(67.20,479.54) scale(1.0146,1.0000)" font-size="27" fill="#000">4</text>
<text transform="translate(66.83,582.43) scale(1.1400,1.0000)" font-size="27" fill="#000">0</text>
<text transform="translate(57.51,684.77) scale(1.0011,1.0000)" font-size="27" fill="#000">-4</text>
<text transform="translate(76.18,717.06) scale(1.0936,1.0000)" font-size="27" fill="#000">-0.15</text>
<text transform="translate(228.43,716.31) scale(1.1083,1.0000)" font-size="27" fill="#000">0.15</text>
<text transform="translate(375.68,716.31) scale(1.1082,1.0000)" font-size="27" fill="#000">0.45</text>
<text transform="translate(522.81,716.31) scale(1.0870,1.0000)" font-size="27" fill="#000">0.75</text>
<text transform="translate(226.50,759.71) scale(0.9900,1.0000)" font-size="34" fill="#000">E/V vs. Ag/AgCl</text>
<text transform="translate(37.45,441.07) rotate(-90) scale(0.9308,1.0000)" font-size="34" fill="#000">I/ µA</text>
<text transform="translate(570.36,104.69) scale(0.9628,1.0000)" font-size="47" fill="#000">A</text>
<text transform="translate(118.44,19.14) scale(0.9950,1.0000)" font-size="36" fill="#0c0c1e" stroke="#fff" stroke-width="0.45">e</text>
<text transform="translate(117.19,62.93) scale(1.0141,1.0000)" font-size="30" fill="#0c0c1e" stroke="#fff" stroke-width="0.45">d</text>
<text transform="translate(120.94,98.09) scale(0.9567,1.0000)" font-size="35" fill="#0c0c1e" stroke="#fff" stroke-width="0.45">c</text>
<text transform="translate(121.85,138.15) scale(0.8809,1.0000)" font-size="30" fill="#0c0c1e" stroke="#fff" stroke-width="0.45">b</text>
<text transform="translate(121.54,169.56) scale(0.8603,1.0000)" font-size="34" fill="#0c0c1e" stroke="#fff" stroke-width="0.45">a</text>
<text transform="translate(181.59,18.13) scale(1.0901,1.0000)" font-size="22" fill="#111">ZIF-67/SiO<tspan font-size="14" dy="4">2</tspan><tspan dy="-4">NPs/GONs/GCE</tspan></text>
<text transform="translate(184.60,56.79) scale(1.0865,1.0000)" font-size="22" fill="#111">ZIF-67/GCE</text>
<text transform="translate(181.54,96.36) scale(1.0995,1.0000)" font-size="22" fill="#111">SiO<tspan font-size="14" dy="4">2</tspan><tspan dy="-4">NPs/GONs/GCE</tspan></text>
<text transform="translate(185.92,136.03) scale(1.1119,1.0000)" font-size="22" fill="#111">GONs/GCE</text>
<text transform="translate(185.54,169.04) scale(1.0971,1.0000)" font-size="22" fill="#111">GCE</text>
<text transform="translate(587.34,285.09) scale(1.1350,1.0000)" font-size="25" fill="#e0106a" stroke="#fff" stroke-width="0.35">e</text>
<text transform="translate(585.91,464.14) scale(1.0210,1.0000)" font-size="25" fill="#1a9ad8" stroke="#fff" stroke-width="0.35">d</text>
<text transform="translate(583.82,508.75) scale(1.1470,1.0000)" font-size="25" fill="#f0961e" stroke="#fff" stroke-width="0.35">c</text>
<text transform="translate(583.62,538.93) scale(0.9827,1.0000)" font-size="25" fill="#14a85a" stroke="#fff" stroke-width="0.35">b</text>
<text transform="translate(591.07,559.74) scale(1.1184,1.0000)" font-size="25" fill="#111" stroke="#fff" stroke-width="0.35">a</text>
<text transform="translate(57.63,811.80) scale(0.9991,1.0000)" font-size="29" fill="#000">28</text>
<text transform="translate(57.45,891.20) scale(0.9673,1.0000)" font-size="29" fill="#000">23</text>
<text transform="translate(57.46,969.78) scale(0.9902,1.0000)" font-size="29" fill="#000">18</text>
<text transform="translate(57.25,1049.42) scale(0.9613,1.0000)" font-size="29" fill="#000">13</text>
<text transform="translate(72.21,1128.95) scale(0.9681,1.0000)" font-size="29" fill="#000">8</text>
<text transform="translate(72.11,1208.42) scale(0.9495,1.0000)" font-size="29" fill="#000">3</text>
<text transform="translate(61.79,1287.41) scale(0.9730,1.0000)" font-size="29" fill="#000">-2</text>
<text transform="translate(92.09,1321.15) scale(0.9369,1.0000)" font-size="29" fill="#000">0.1</text>
<text transform="translate(228.86,1321.47) scale(0.9516,1.0000)" font-size="29" fill="#000">0.3</text>
<text transform="translate(365.20,1321.06) scale(0.9693,1.0000)" font-size="29" fill="#000">0.5</text>
<text transform="translate(500.54,1321.25) scale(0.9573,1.0000)" font-size="29" fill="#000">0.7</text>
<text transform="translate(636.69,1321.25) scale(0.9709,1.0000)" font-size="29" fill="#000">0.9</text>
<text transform="translate(242.91,1368.50) scale(0.9924,1.0000)" font-size="34" fill="#000">E/V vs. Ag/AgCl</text>
<text transform="translate(37.45,1073.47) rotate(-90) scale(0.9964,1.0000)" font-size="34" fill="#000">I/ µA</text>
<text transform="translate(575.79,850.14) scale(0.9912,1.0000)" font-size="47" fill="#000">B</text>
<text transform="translate(124.32,830.71) scale(0.9901,1.0000)" font-size="34" fill="#0c0c1e" stroke="#fff" stroke-width="0.45">e</text>
<text transform="translate(125.08,875.48) scale(1.0231,1.0000)" font-size="30" fill="#0c0c1e" stroke="#fff" stroke-width="0.45">d</text>
<text transform="translate(125.19,913.16) scale(1.1480,1.0000)" font-size="33" fill="#0c0c1e" stroke="#fff" stroke-width="0.45">c</text>
<text transform="translate(126.30,955.17) scale(0.9909,1.0000)" font-size="30" fill="#0c0c1e" stroke="#fff" stroke-width="0.45">b</text>
<text transform="translate(121.21,992.75) scale(0.9087,1.0000)" font-size="33" fill="#0c0c1e" stroke="#fff" stroke-width="0.45">a</text>
<text transform="translate(181.86,832.70) scale(1.0250,1.0000)" font-size="22" fill="#111">ZIF-67/SiO<tspan dy="4">2</tspan><tspan dy="-4">NPs/GONs/GCE</tspan></text>
<text transform="translate(191.17,872.31) scale(1.0228,1.0000)" font-size="22" fill="#111">ZIF-67/GCE</text>
<text transform="translate(193.53,911.46) scale(1.0317,1.0000)" font-size="22" fill="#111">SiO<tspan dy="4">2</tspan><tspan dy="-4">NPs/GONs/GCE</tspan></text>
<text transform="translate(196.70,950.86) scale(1.0240,1.0000)" font-size="22" fill="#111">GONs/GCE</text>
<text transform="translate(191.61,989.90) scale(0.9793,1.0000)" font-size="23" fill="#111">GCE</text>
<text transform="translate(611.81,933.94) scale(1.2389,1.0000)" font-size="25" fill="#111" stroke="#fff" stroke-width="0.35">e</text>
<text transform="translate(603.12,1057.92) scale(1.1285,1.0000)" font-size="25" fill="#111" stroke="#fff" stroke-width="0.35">d</text>
<text transform="translate(603.22,1135.05) scale(0.9851,1.0000)" font-size="25" fill="#111" stroke="#fff" stroke-width="0.35">c</text>
<text transform="translate(601.20,1193.42) scale(1.0964,1.0000)" font-size="25" fill="#111" stroke="#fff" stroke-width="0.35">b</text>
<text transform="translate(598.84,1228.12) scale(1.0205,1.0000)" font-size="25" fill="#111" stroke="#fff" stroke-width="0.35">a</text>
</svg>
</body></html>
